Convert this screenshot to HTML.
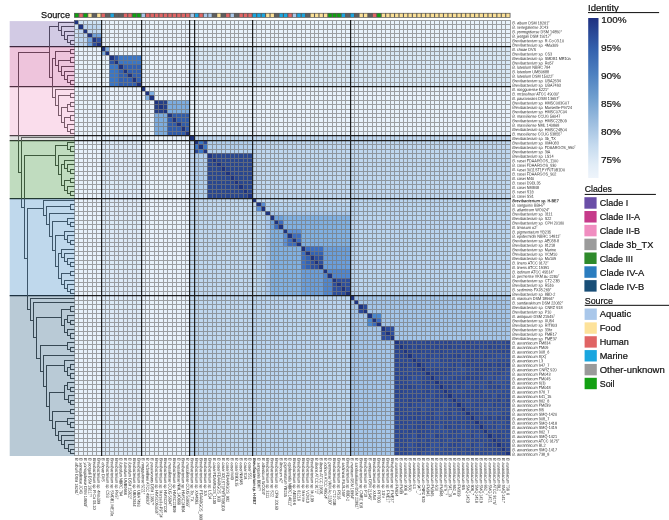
<!DOCTYPE html>
<html><head><meta charset="utf-8"><title>ANI heatmap</title>
<style>
html,body{margin:0;padding:0;background:#fff;width:669px;height:520px;overflow:hidden;font-family:"Liberation Sans",sans-serif;}
svg{display:block;}
</style></head><body>
<svg width="669" height="520" viewBox="0 0 669 520" font-family="Liberation Sans, sans-serif"><defs><filter id="gf" x="0" y="0" width="1" height="1" color-interpolation-filters="sRGB"><feOffset dx="0" dy="0"/></filter></defs><g filter="url(#gf)"><rect width="669" height="520" fill="#fff"/><g shape-rendering="crispEdges"><rect x="74" y="20" width="4" height="4" fill="#1d3380"/><rect x="78" y="20" width="23" height="4" fill="#cfe3f5"/><rect x="101" y="20" width="409" height="4" fill="#e8f2fb"/><rect x="74" y="24" width="4" height="5" fill="#cfe3f5"/><rect x="78" y="24" width="5" height="5" fill="#1d3380"/><rect x="83" y="24" width="18" height="5" fill="#bdd6f0"/><rect x="101" y="24" width="409" height="5" fill="#e8f2fb"/><rect x="74" y="29" width="4" height="4" fill="#cfe3f5"/><rect x="78" y="29" width="5" height="4" fill="#bdd6f0"/><rect x="83" y="29" width="4" height="4" fill="#1d3380"/><rect x="87" y="29" width="14" height="4" fill="#bdd6f0"/><rect x="101" y="29" width="409" height="4" fill="#e8f2fb"/><rect x="74" y="33" width="4" height="4" fill="#cfe3f5"/><rect x="78" y="33" width="9" height="4" fill="#bdd6f0"/><rect x="87" y="33" width="5" height="4" fill="#1d3380"/><rect x="92" y="33" width="9" height="4" fill="#72a3dc"/><rect x="101" y="33" width="409" height="4" fill="#e8f2fb"/><rect x="74" y="37" width="4" height="5" fill="#cfe3f5"/><rect x="78" y="37" width="9" height="5" fill="#bdd6f0"/><rect x="87" y="37" width="5" height="5" fill="#72a3dc"/><rect x="92" y="37" width="4" height="5" fill="#1d3380"/><rect x="96" y="37" width="5" height="5" fill="#2f52a3"/><rect x="101" y="37" width="409" height="5" fill="#e8f2fb"/><rect x="74" y="42" width="4" height="4" fill="#cfe3f5"/><rect x="78" y="42" width="9" height="4" fill="#bdd6f0"/><rect x="87" y="42" width="5" height="4" fill="#72a3dc"/><rect x="92" y="42" width="4" height="4" fill="#2f52a3"/><rect x="96" y="42" width="5" height="4" fill="#1d3380"/><rect x="101" y="42" width="409" height="4" fill="#e8f2fb"/><rect x="74" y="46" width="27" height="5" fill="#e8f2fb"/><rect x="101" y="46" width="4" height="5" fill="#1d3380"/><rect x="105" y="46" width="4" height="5" fill="#7faee1"/><rect x="109" y="46" width="80" height="5" fill="#e8f2fb"/><rect x="189" y="46" width="321" height="5" fill="#d8e8f6"/><rect x="74" y="51" width="27" height="4" fill="#e8f2fb"/><rect x="101" y="51" width="4" height="4" fill="#7faee1"/><rect x="105" y="51" width="4" height="4" fill="#1d3380"/><rect x="109" y="51" width="80" height="4" fill="#e8f2fb"/><rect x="189" y="51" width="321" height="4" fill="#d8e8f6"/><rect x="74" y="55" width="35" height="5" fill="#e8f2fb"/><rect x="109" y="55" width="5" height="5" fill="#1d3380"/><rect x="114" y="55" width="4" height="5" fill="#2d55a8"/><rect x="118" y="55" width="23" height="5" fill="#3a76c6"/><rect x="141" y="55" width="48" height="5" fill="#e8f2fb"/><rect x="189" y="55" width="321" height="5" fill="#d8e8f6"/><rect x="74" y="60" width="35" height="4" fill="#e8f2fb"/><rect x="109" y="60" width="5" height="4" fill="#2d55a8"/><rect x="114" y="60" width="4" height="4" fill="#1d3380"/><rect x="118" y="60" width="23" height="4" fill="#3a76c6"/><rect x="141" y="60" width="48" height="4" fill="#e8f2fb"/><rect x="189" y="60" width="321" height="4" fill="#d8e8f6"/><rect x="74" y="64" width="35" height="5" fill="#e8f2fb"/><rect x="109" y="64" width="9" height="5" fill="#3a76c6"/><rect x="118" y="64" width="5" height="5" fill="#1d3380"/><rect x="123" y="64" width="18" height="5" fill="#3160b2"/><rect x="141" y="64" width="48" height="5" fill="#e8f2fb"/><rect x="189" y="64" width="321" height="5" fill="#d8e8f6"/><rect x="74" y="69" width="35" height="4" fill="#e8f2fb"/><rect x="109" y="69" width="9" height="4" fill="#3a76c6"/><rect x="118" y="69" width="5" height="4" fill="#3160b2"/><rect x="123" y="69" width="4" height="4" fill="#1d3380"/><rect x="127" y="69" width="14" height="4" fill="#3160b2"/><rect x="141" y="69" width="48" height="4" fill="#e8f2fb"/><rect x="189" y="69" width="321" height="4" fill="#d8e8f6"/><rect x="74" y="73" width="35" height="4" fill="#e8f2fb"/><rect x="109" y="73" width="9" height="4" fill="#3a76c6"/><rect x="118" y="73" width="9" height="4" fill="#3160b2"/><rect x="127" y="73" width="5" height="4" fill="#1d3380"/><rect x="132" y="73" width="9" height="4" fill="#3160b2"/><rect x="141" y="73" width="48" height="4" fill="#e8f2fb"/><rect x="189" y="73" width="321" height="4" fill="#d8e8f6"/><rect x="74" y="77" width="35" height="5" fill="#e8f2fb"/><rect x="109" y="77" width="9" height="5" fill="#3a76c6"/><rect x="118" y="77" width="14" height="5" fill="#3160b2"/><rect x="132" y="77" width="4" height="5" fill="#1d3380"/><rect x="136" y="77" width="5" height="5" fill="#3160b2"/><rect x="141" y="77" width="48" height="5" fill="#e8f2fb"/><rect x="189" y="77" width="321" height="5" fill="#d8e8f6"/><rect x="74" y="82" width="35" height="4" fill="#e8f2fb"/><rect x="109" y="82" width="9" height="4" fill="#3a76c6"/><rect x="118" y="82" width="18" height="4" fill="#3160b2"/><rect x="136" y="82" width="5" height="4" fill="#1d3380"/><rect x="141" y="82" width="48" height="4" fill="#e8f2fb"/><rect x="189" y="82" width="321" height="4" fill="#d8e8f6"/><rect x="74" y="86" width="67" height="5" fill="#e8f2fb"/><rect x="141" y="86" width="4" height="5" fill="#1d3380"/><rect x="145" y="86" width="365" height="5" fill="#e8f2fb"/><rect x="74" y="91" width="71" height="4" fill="#e8f2fb"/><rect x="145" y="91" width="4" height="4" fill="#1d3380"/><rect x="149" y="91" width="5" height="4" fill="#80b0e2"/><rect x="154" y="91" width="356" height="4" fill="#e8f2fb"/><rect x="74" y="95" width="71" height="5" fill="#e8f2fb"/><rect x="145" y="95" width="4" height="5" fill="#80b0e2"/><rect x="149" y="95" width="5" height="5" fill="#1d3380"/><rect x="154" y="95" width="356" height="5" fill="#e8f2fb"/><rect x="74" y="100" width="80" height="4" fill="#e8f2fb"/><rect x="154" y="100" width="4" height="4" fill="#1d3380"/><rect x="158" y="100" width="9" height="4" fill="#243f88"/><rect x="167" y="100" width="22" height="4" fill="#7cade1"/><rect x="189" y="100" width="321" height="4" fill="#e8f2fb"/><rect x="74" y="104" width="80" height="5" fill="#e8f2fb"/><rect x="154" y="104" width="4" height="5" fill="#243f88"/><rect x="158" y="104" width="5" height="5" fill="#1d3380"/><rect x="163" y="104" width="4" height="5" fill="#243f88"/><rect x="167" y="104" width="22" height="5" fill="#7cade1"/><rect x="189" y="104" width="321" height="5" fill="#e8f2fb"/><rect x="74" y="109" width="80" height="4" fill="#e8f2fb"/><rect x="154" y="109" width="9" height="4" fill="#243f88"/><rect x="163" y="109" width="4" height="4" fill="#1d3380"/><rect x="167" y="109" width="22" height="4" fill="#7cade1"/><rect x="189" y="109" width="321" height="4" fill="#e8f2fb"/><rect x="74" y="113" width="80" height="4" fill="#e8f2fb"/><rect x="154" y="113" width="13" height="4" fill="#7cade1"/><rect x="167" y="113" width="5" height="4" fill="#1d3380"/><rect x="172" y="113" width="17" height="4" fill="#2f5cac"/><rect x="189" y="113" width="321" height="4" fill="#e8f2fb"/><rect x="74" y="117" width="80" height="5" fill="#e8f2fb"/><rect x="154" y="117" width="13" height="5" fill="#7cade1"/><rect x="167" y="117" width="5" height="5" fill="#2f5cac"/><rect x="172" y="117" width="4" height="5" fill="#1d3380"/><rect x="176" y="117" width="13" height="5" fill="#2f5cac"/><rect x="189" y="117" width="321" height="5" fill="#e8f2fb"/><rect x="74" y="122" width="80" height="4" fill="#e8f2fb"/><rect x="154" y="122" width="13" height="4" fill="#7cade1"/><rect x="167" y="122" width="9" height="4" fill="#2f5cac"/><rect x="176" y="122" width="5" height="4" fill="#1d3380"/><rect x="181" y="122" width="8" height="4" fill="#2f5cac"/><rect x="189" y="122" width="321" height="4" fill="#e8f2fb"/><rect x="74" y="126" width="80" height="5" fill="#e8f2fb"/><rect x="154" y="126" width="13" height="5" fill="#7cade1"/><rect x="167" y="126" width="14" height="5" fill="#2f5cac"/><rect x="181" y="126" width="4" height="5" fill="#1d3380"/><rect x="185" y="126" width="4" height="5" fill="#2f5cac"/><rect x="189" y="126" width="321" height="5" fill="#e8f2fb"/><rect x="74" y="131" width="80" height="4" fill="#e8f2fb"/><rect x="154" y="131" width="13" height="4" fill="#7cade1"/><rect x="167" y="131" width="18" height="4" fill="#2f5cac"/><rect x="185" y="131" width="4" height="4" fill="#1d3380"/><rect x="189" y="131" width="321" height="4" fill="#e8f2fb"/><rect x="74" y="135" width="27" height="5" fill="#e8f2fb"/><rect x="101" y="135" width="40" height="5" fill="#dceaf7"/><rect x="141" y="135" width="48" height="5" fill="#e8f2fb"/><rect x="189" y="135" width="5" height="5" fill="#1d3380"/><rect x="194" y="135" width="316" height="5" fill="#bfd7ef"/><rect x="74" y="140" width="27" height="4" fill="#e8f2fb"/><rect x="101" y="140" width="40" height="4" fill="#dceaf7"/><rect x="141" y="140" width="48" height="4" fill="#e8f2fb"/><rect x="189" y="140" width="5" height="4" fill="#bfd7ef"/><rect x="194" y="140" width="4" height="4" fill="#1d3380"/><rect x="198" y="140" width="5" height="4" fill="#3a78c8"/><rect x="203" y="140" width="4" height="4" fill="#2a4a9a"/><rect x="207" y="140" width="45" height="4" fill="#b2d0ee"/><rect x="252" y="140" width="258" height="4" fill="#bfd7ef"/><rect x="74" y="144" width="27" height="5" fill="#e8f2fb"/><rect x="101" y="144" width="40" height="5" fill="#dceaf7"/><rect x="141" y="144" width="48" height="5" fill="#e8f2fb"/><rect x="189" y="144" width="5" height="5" fill="#bfd7ef"/><rect x="194" y="144" width="4" height="5" fill="#3a78c8"/><rect x="198" y="144" width="5" height="5" fill="#1d3380"/><rect x="203" y="144" width="4" height="5" fill="#3a78c8"/><rect x="207" y="144" width="45" height="5" fill="#b2d0ee"/><rect x="252" y="144" width="258" height="5" fill="#bfd7ef"/><rect x="74" y="149" width="27" height="4" fill="#e8f2fb"/><rect x="101" y="149" width="40" height="4" fill="#dceaf7"/><rect x="141" y="149" width="48" height="4" fill="#e8f2fb"/><rect x="189" y="149" width="5" height="4" fill="#bfd7ef"/><rect x="194" y="149" width="4" height="4" fill="#2a4a9a"/><rect x="198" y="149" width="5" height="4" fill="#3a78c8"/><rect x="203" y="149" width="4" height="4" fill="#1d3380"/><rect x="207" y="149" width="45" height="4" fill="#b2d0ee"/><rect x="252" y="149" width="258" height="4" fill="#bfd7ef"/><rect x="74" y="153" width="27" height="5" fill="#e8f2fb"/><rect x="101" y="153" width="40" height="5" fill="#dceaf7"/><rect x="141" y="153" width="48" height="5" fill="#e8f2fb"/><rect x="189" y="153" width="5" height="5" fill="#bfd7ef"/><rect x="194" y="153" width="13" height="5" fill="#b2d0ee"/><rect x="207" y="153" width="5" height="5" fill="#1d3380"/><rect x="212" y="153" width="40" height="5" fill="#29478f"/><rect x="252" y="153" width="258" height="5" fill="#bfd7ef"/><rect x="74" y="158" width="27" height="4" fill="#e8f2fb"/><rect x="101" y="158" width="40" height="4" fill="#dceaf7"/><rect x="141" y="158" width="48" height="4" fill="#e8f2fb"/><rect x="189" y="158" width="5" height="4" fill="#bfd7ef"/><rect x="194" y="158" width="13" height="4" fill="#b2d0ee"/><rect x="207" y="158" width="5" height="4" fill="#29478f"/><rect x="212" y="158" width="4" height="4" fill="#1d3380"/><rect x="216" y="158" width="36" height="4" fill="#29478f"/><rect x="252" y="158" width="258" height="4" fill="#bfd7ef"/><rect x="74" y="162" width="27" height="4" fill="#e8f2fb"/><rect x="101" y="162" width="40" height="4" fill="#dceaf7"/><rect x="141" y="162" width="48" height="4" fill="#e8f2fb"/><rect x="189" y="162" width="5" height="4" fill="#bfd7ef"/><rect x="194" y="162" width="13" height="4" fill="#b2d0ee"/><rect x="207" y="162" width="9" height="4" fill="#29478f"/><rect x="216" y="162" width="5" height="4" fill="#1d3380"/><rect x="221" y="162" width="31" height="4" fill="#29478f"/><rect x="252" y="162" width="258" height="4" fill="#bfd7ef"/><rect x="74" y="166" width="27" height="5" fill="#e8f2fb"/><rect x="101" y="166" width="40" height="5" fill="#dceaf7"/><rect x="141" y="166" width="48" height="5" fill="#e8f2fb"/><rect x="189" y="166" width="5" height="5" fill="#bfd7ef"/><rect x="194" y="166" width="13" height="5" fill="#b2d0ee"/><rect x="207" y="166" width="14" height="5" fill="#29478f"/><rect x="221" y="166" width="4" height="5" fill="#1d3380"/><rect x="225" y="166" width="27" height="5" fill="#29478f"/><rect x="252" y="166" width="258" height="5" fill="#bfd7ef"/><rect x="74" y="171" width="27" height="4" fill="#e8f2fb"/><rect x="101" y="171" width="40" height="4" fill="#dceaf7"/><rect x="141" y="171" width="48" height="4" fill="#e8f2fb"/><rect x="189" y="171" width="5" height="4" fill="#bfd7ef"/><rect x="194" y="171" width="13" height="4" fill="#b2d0ee"/><rect x="207" y="171" width="18" height="4" fill="#29478f"/><rect x="225" y="171" width="5" height="4" fill="#1d3380"/><rect x="230" y="171" width="22" height="4" fill="#29478f"/><rect x="252" y="171" width="258" height="4" fill="#bfd7ef"/><rect x="74" y="175" width="27" height="5" fill="#e8f2fb"/><rect x="101" y="175" width="40" height="5" fill="#dceaf7"/><rect x="141" y="175" width="48" height="5" fill="#e8f2fb"/><rect x="189" y="175" width="5" height="5" fill="#bfd7ef"/><rect x="194" y="175" width="13" height="5" fill="#b2d0ee"/><rect x="207" y="175" width="23" height="5" fill="#29478f"/><rect x="230" y="175" width="4" height="5" fill="#1d3380"/><rect x="234" y="175" width="18" height="5" fill="#29478f"/><rect x="252" y="175" width="258" height="5" fill="#bfd7ef"/><rect x="74" y="180" width="27" height="4" fill="#e8f2fb"/><rect x="101" y="180" width="40" height="4" fill="#dceaf7"/><rect x="141" y="180" width="48" height="4" fill="#e8f2fb"/><rect x="189" y="180" width="5" height="4" fill="#bfd7ef"/><rect x="194" y="180" width="13" height="4" fill="#b2d0ee"/><rect x="207" y="180" width="27" height="4" fill="#29478f"/><rect x="234" y="180" width="4" height="4" fill="#1d3380"/><rect x="238" y="180" width="14" height="4" fill="#29478f"/><rect x="252" y="180" width="258" height="4" fill="#bfd7ef"/><rect x="74" y="184" width="27" height="5" fill="#e8f2fb"/><rect x="101" y="184" width="40" height="5" fill="#dceaf7"/><rect x="141" y="184" width="48" height="5" fill="#e8f2fb"/><rect x="189" y="184" width="5" height="5" fill="#bfd7ef"/><rect x="194" y="184" width="13" height="5" fill="#b2d0ee"/><rect x="207" y="184" width="31" height="5" fill="#29478f"/><rect x="238" y="184" width="5" height="5" fill="#1d3380"/><rect x="243" y="184" width="9" height="5" fill="#29478f"/><rect x="252" y="184" width="258" height="5" fill="#bfd7ef"/><rect x="74" y="189" width="27" height="4" fill="#e8f2fb"/><rect x="101" y="189" width="40" height="4" fill="#dceaf7"/><rect x="141" y="189" width="48" height="4" fill="#e8f2fb"/><rect x="189" y="189" width="5" height="4" fill="#bfd7ef"/><rect x="194" y="189" width="13" height="4" fill="#b2d0ee"/><rect x="207" y="189" width="36" height="4" fill="#29478f"/><rect x="243" y="189" width="4" height="4" fill="#1d3380"/><rect x="247" y="189" width="5" height="4" fill="#29478f"/><rect x="252" y="189" width="258" height="4" fill="#bfd7ef"/><rect x="74" y="193" width="27" height="5" fill="#e8f2fb"/><rect x="101" y="193" width="40" height="5" fill="#dceaf7"/><rect x="141" y="193" width="48" height="5" fill="#e8f2fb"/><rect x="189" y="193" width="5" height="5" fill="#bfd7ef"/><rect x="194" y="193" width="13" height="5" fill="#b2d0ee"/><rect x="207" y="193" width="40" height="5" fill="#29478f"/><rect x="247" y="193" width="5" height="5" fill="#1d3380"/><rect x="252" y="193" width="258" height="5" fill="#bfd7ef"/><rect x="74" y="198" width="27" height="4" fill="#e8f2fb"/><rect x="101" y="198" width="40" height="4" fill="#dceaf7"/><rect x="141" y="198" width="48" height="4" fill="#e8f2fb"/><rect x="189" y="198" width="63" height="4" fill="#bfd7ef"/><rect x="252" y="198" width="4" height="4" fill="#1d3380"/><rect x="256" y="198" width="94" height="4" fill="#c4dcf2"/><rect x="350" y="198" width="160" height="4" fill="#b9d4ef"/><rect x="74" y="202" width="27" height="4" fill="#e8f2fb"/><rect x="101" y="202" width="40" height="4" fill="#dceaf7"/><rect x="141" y="202" width="48" height="4" fill="#e8f2fb"/><rect x="189" y="202" width="63" height="4" fill="#bfd7ef"/><rect x="252" y="202" width="4" height="4" fill="#c4dcf2"/><rect x="256" y="202" width="5" height="4" fill="#1d3380"/><rect x="261" y="202" width="4" height="4" fill="#5a8fd6"/><rect x="265" y="202" width="85" height="4" fill="#b4d2ee"/><rect x="350" y="202" width="160" height="4" fill="#b9d4ef"/><rect x="74" y="206" width="27" height="5" fill="#e8f2fb"/><rect x="101" y="206" width="40" height="5" fill="#dceaf7"/><rect x="141" y="206" width="48" height="5" fill="#e8f2fb"/><rect x="189" y="206" width="63" height="5" fill="#bfd7ef"/><rect x="252" y="206" width="4" height="5" fill="#c4dcf2"/><rect x="256" y="206" width="5" height="5" fill="#5a8fd6"/><rect x="261" y="206" width="4" height="5" fill="#1d3380"/><rect x="265" y="206" width="85" height="5" fill="#b4d2ee"/><rect x="350" y="206" width="160" height="5" fill="#b9d4ef"/><rect x="74" y="211" width="27" height="4" fill="#e8f2fb"/><rect x="101" y="211" width="40" height="4" fill="#dceaf7"/><rect x="141" y="211" width="48" height="4" fill="#e8f2fb"/><rect x="189" y="211" width="63" height="4" fill="#bfd7ef"/><rect x="252" y="211" width="4" height="4" fill="#c4dcf2"/><rect x="256" y="211" width="9" height="4" fill="#b4d2ee"/><rect x="265" y="211" width="5" height="4" fill="#1d3380"/><rect x="270" y="211" width="80" height="4" fill="#a8c8ec"/><rect x="350" y="211" width="160" height="4" fill="#b9d4ef"/><rect x="74" y="215" width="27" height="5" fill="#e8f2fb"/><rect x="101" y="215" width="40" height="5" fill="#dceaf7"/><rect x="141" y="215" width="48" height="5" fill="#e8f2fb"/><rect x="189" y="215" width="63" height="5" fill="#bfd7ef"/><rect x="252" y="215" width="4" height="5" fill="#c4dcf2"/><rect x="256" y="215" width="9" height="5" fill="#b4d2ee"/><rect x="265" y="215" width="5" height="5" fill="#a8c8ec"/><rect x="270" y="215" width="4" height="5" fill="#1d3380"/><rect x="274" y="215" width="9" height="5" fill="#6fa2dc"/><rect x="283" y="215" width="67" height="5" fill="#80b0e2"/><rect x="350" y="215" width="160" height="5" fill="#b9d4ef"/><rect x="74" y="220" width="27" height="4" fill="#e8f2fb"/><rect x="101" y="220" width="40" height="4" fill="#dceaf7"/><rect x="141" y="220" width="48" height="4" fill="#e8f2fb"/><rect x="189" y="220" width="63" height="4" fill="#bfd7ef"/><rect x="252" y="220" width="4" height="4" fill="#c4dcf2"/><rect x="256" y="220" width="9" height="4" fill="#b4d2ee"/><rect x="265" y="220" width="5" height="4" fill="#a8c8ec"/><rect x="270" y="220" width="4" height="4" fill="#6fa2dc"/><rect x="274" y="220" width="4" height="4" fill="#1d3380"/><rect x="278" y="220" width="5" height="4" fill="#3c6cc0"/><rect x="283" y="220" width="67" height="4" fill="#80b0e2"/><rect x="350" y="220" width="160" height="4" fill="#b9d4ef"/><rect x="74" y="224" width="27" height="5" fill="#e8f2fb"/><rect x="101" y="224" width="40" height="5" fill="#dceaf7"/><rect x="141" y="224" width="48" height="5" fill="#e8f2fb"/><rect x="189" y="224" width="63" height="5" fill="#bfd7ef"/><rect x="252" y="224" width="4" height="5" fill="#c4dcf2"/><rect x="256" y="224" width="9" height="5" fill="#b4d2ee"/><rect x="265" y="224" width="5" height="5" fill="#a8c8ec"/><rect x="270" y="224" width="4" height="5" fill="#6fa2dc"/><rect x="274" y="224" width="4" height="5" fill="#3c6cc0"/><rect x="278" y="224" width="5" height="5" fill="#1d3380"/><rect x="283" y="224" width="67" height="5" fill="#80b0e2"/><rect x="350" y="224" width="160" height="5" fill="#b9d4ef"/><rect x="74" y="229" width="27" height="4" fill="#e8f2fb"/><rect x="101" y="229" width="40" height="4" fill="#dceaf7"/><rect x="141" y="229" width="48" height="4" fill="#e8f2fb"/><rect x="189" y="229" width="63" height="4" fill="#bfd7ef"/><rect x="252" y="229" width="4" height="4" fill="#c4dcf2"/><rect x="256" y="229" width="9" height="4" fill="#b4d2ee"/><rect x="265" y="229" width="5" height="4" fill="#a8c8ec"/><rect x="270" y="229" width="13" height="4" fill="#80b0e2"/><rect x="283" y="229" width="4" height="4" fill="#1d3380"/><rect x="287" y="229" width="14" height="4" fill="#5c90d6"/><rect x="301" y="229" width="49" height="4" fill="#80b0e2"/><rect x="350" y="229" width="160" height="4" fill="#b9d4ef"/><rect x="74" y="233" width="27" height="5" fill="#e8f2fb"/><rect x="101" y="233" width="40" height="5" fill="#dceaf7"/><rect x="141" y="233" width="48" height="5" fill="#e8f2fb"/><rect x="189" y="233" width="63" height="5" fill="#bfd7ef"/><rect x="252" y="233" width="4" height="5" fill="#c4dcf2"/><rect x="256" y="233" width="9" height="5" fill="#b4d2ee"/><rect x="265" y="233" width="5" height="5" fill="#a8c8ec"/><rect x="270" y="233" width="13" height="5" fill="#80b0e2"/><rect x="283" y="233" width="4" height="5" fill="#5c90d6"/><rect x="287" y="233" width="5" height="5" fill="#1d3380"/><rect x="292" y="233" width="9" height="5" fill="#3d6ec0"/><rect x="301" y="233" width="49" height="5" fill="#80b0e2"/><rect x="350" y="233" width="160" height="5" fill="#b9d4ef"/><rect x="74" y="238" width="27" height="4" fill="#e8f2fb"/><rect x="101" y="238" width="40" height="4" fill="#dceaf7"/><rect x="141" y="238" width="48" height="4" fill="#e8f2fb"/><rect x="189" y="238" width="63" height="4" fill="#bfd7ef"/><rect x="252" y="238" width="4" height="4" fill="#c4dcf2"/><rect x="256" y="238" width="9" height="4" fill="#b4d2ee"/><rect x="265" y="238" width="5" height="4" fill="#a8c8ec"/><rect x="270" y="238" width="13" height="4" fill="#80b0e2"/><rect x="283" y="238" width="4" height="4" fill="#5c90d6"/><rect x="287" y="238" width="5" height="4" fill="#3d6ec0"/><rect x="292" y="238" width="4" height="4" fill="#1d3380"/><rect x="296" y="238" width="5" height="4" fill="#3d6ec0"/><rect x="301" y="238" width="49" height="4" fill="#80b0e2"/><rect x="350" y="238" width="160" height="4" fill="#b9d4ef"/><rect x="74" y="242" width="27" height="4" fill="#e8f2fb"/><rect x="101" y="242" width="40" height="4" fill="#dceaf7"/><rect x="141" y="242" width="48" height="4" fill="#e8f2fb"/><rect x="189" y="242" width="63" height="4" fill="#bfd7ef"/><rect x="252" y="242" width="4" height="4" fill="#c4dcf2"/><rect x="256" y="242" width="9" height="4" fill="#b4d2ee"/><rect x="265" y="242" width="5" height="4" fill="#a8c8ec"/><rect x="270" y="242" width="13" height="4" fill="#80b0e2"/><rect x="283" y="242" width="4" height="4" fill="#5c90d6"/><rect x="287" y="242" width="9" height="4" fill="#3d6ec0"/><rect x="296" y="242" width="5" height="4" fill="#1d3380"/><rect x="301" y="242" width="49" height="4" fill="#80b0e2"/><rect x="350" y="242" width="160" height="4" fill="#b9d4ef"/><rect x="74" y="246" width="27" height="5" fill="#e8f2fb"/><rect x="101" y="246" width="40" height="5" fill="#dceaf7"/><rect x="141" y="246" width="48" height="5" fill="#e8f2fb"/><rect x="189" y="246" width="63" height="5" fill="#bfd7ef"/><rect x="252" y="246" width="4" height="5" fill="#c4dcf2"/><rect x="256" y="246" width="9" height="5" fill="#b4d2ee"/><rect x="265" y="246" width="5" height="5" fill="#a8c8ec"/><rect x="270" y="246" width="31" height="5" fill="#80b0e2"/><rect x="301" y="246" width="4" height="5" fill="#1d3380"/><rect x="305" y="246" width="18" height="5" fill="#3c70c4"/><rect x="323" y="246" width="27" height="5" fill="#6a9edb"/><rect x="350" y="246" width="160" height="5" fill="#b9d4ef"/><rect x="74" y="251" width="27" height="4" fill="#e8f2fb"/><rect x="101" y="251" width="40" height="4" fill="#dceaf7"/><rect x="141" y="251" width="48" height="4" fill="#e8f2fb"/><rect x="189" y="251" width="63" height="4" fill="#bfd7ef"/><rect x="252" y="251" width="4" height="4" fill="#c4dcf2"/><rect x="256" y="251" width="9" height="4" fill="#b4d2ee"/><rect x="265" y="251" width="5" height="4" fill="#a8c8ec"/><rect x="270" y="251" width="31" height="4" fill="#80b0e2"/><rect x="301" y="251" width="4" height="4" fill="#3c70c4"/><rect x="305" y="251" width="5" height="4" fill="#1d3380"/><rect x="310" y="251" width="13" height="4" fill="#3262b4"/><rect x="323" y="251" width="27" height="4" fill="#6a9edb"/><rect x="350" y="251" width="160" height="4" fill="#b9d4ef"/><rect x="74" y="255" width="27" height="5" fill="#e8f2fb"/><rect x="101" y="255" width="40" height="5" fill="#dceaf7"/><rect x="141" y="255" width="48" height="5" fill="#e8f2fb"/><rect x="189" y="255" width="63" height="5" fill="#bfd7ef"/><rect x="252" y="255" width="4" height="5" fill="#c4dcf2"/><rect x="256" y="255" width="9" height="5" fill="#b4d2ee"/><rect x="265" y="255" width="5" height="5" fill="#a8c8ec"/><rect x="270" y="255" width="31" height="5" fill="#80b0e2"/><rect x="301" y="255" width="4" height="5" fill="#3c70c4"/><rect x="305" y="255" width="5" height="5" fill="#3262b4"/><rect x="310" y="255" width="4" height="5" fill="#1d3380"/><rect x="314" y="255" width="9" height="5" fill="#2c4f9f"/><rect x="323" y="255" width="27" height="5" fill="#6a9edb"/><rect x="350" y="255" width="160" height="5" fill="#b9d4ef"/><rect x="74" y="260" width="27" height="4" fill="#e8f2fb"/><rect x="101" y="260" width="40" height="4" fill="#dceaf7"/><rect x="141" y="260" width="48" height="4" fill="#e8f2fb"/><rect x="189" y="260" width="63" height="4" fill="#bfd7ef"/><rect x="252" y="260" width="4" height="4" fill="#c4dcf2"/><rect x="256" y="260" width="9" height="4" fill="#b4d2ee"/><rect x="265" y="260" width="5" height="4" fill="#a8c8ec"/><rect x="270" y="260" width="31" height="4" fill="#80b0e2"/><rect x="301" y="260" width="4" height="4" fill="#3c70c4"/><rect x="305" y="260" width="5" height="4" fill="#3262b4"/><rect x="310" y="260" width="4" height="4" fill="#2c4f9f"/><rect x="314" y="260" width="4" height="4" fill="#1d3380"/><rect x="318" y="260" width="5" height="4" fill="#2c4f9f"/><rect x="323" y="260" width="27" height="4" fill="#6a9edb"/><rect x="350" y="260" width="160" height="4" fill="#b9d4ef"/><rect x="74" y="264" width="27" height="5" fill="#e8f2fb"/><rect x="101" y="264" width="40" height="5" fill="#dceaf7"/><rect x="141" y="264" width="48" height="5" fill="#e8f2fb"/><rect x="189" y="264" width="63" height="5" fill="#bfd7ef"/><rect x="252" y="264" width="4" height="5" fill="#c4dcf2"/><rect x="256" y="264" width="9" height="5" fill="#b4d2ee"/><rect x="265" y="264" width="5" height="5" fill="#a8c8ec"/><rect x="270" y="264" width="31" height="5" fill="#80b0e2"/><rect x="301" y="264" width="4" height="5" fill="#3c70c4"/><rect x="305" y="264" width="5" height="5" fill="#3262b4"/><rect x="310" y="264" width="8" height="5" fill="#2c4f9f"/><rect x="318" y="264" width="5" height="5" fill="#1d3380"/><rect x="323" y="264" width="27" height="5" fill="#6a9edb"/><rect x="350" y="264" width="160" height="5" fill="#b9d4ef"/><rect x="74" y="269" width="27" height="4" fill="#e8f2fb"/><rect x="101" y="269" width="40" height="4" fill="#dceaf7"/><rect x="141" y="269" width="48" height="4" fill="#e8f2fb"/><rect x="189" y="269" width="63" height="4" fill="#bfd7ef"/><rect x="252" y="269" width="4" height="4" fill="#c4dcf2"/><rect x="256" y="269" width="9" height="4" fill="#b4d2ee"/><rect x="265" y="269" width="5" height="4" fill="#a8c8ec"/><rect x="270" y="269" width="31" height="4" fill="#80b0e2"/><rect x="301" y="269" width="22" height="4" fill="#6a9edb"/><rect x="323" y="269" width="4" height="4" fill="#1d3380"/><rect x="327" y="269" width="23" height="4" fill="#4f86cf"/><rect x="350" y="269" width="160" height="4" fill="#b9d4ef"/><rect x="74" y="273" width="27" height="5" fill="#e8f2fb"/><rect x="101" y="273" width="40" height="5" fill="#dceaf7"/><rect x="141" y="273" width="48" height="5" fill="#e8f2fb"/><rect x="189" y="273" width="63" height="5" fill="#bfd7ef"/><rect x="252" y="273" width="4" height="5" fill="#c4dcf2"/><rect x="256" y="273" width="9" height="5" fill="#b4d2ee"/><rect x="265" y="273" width="5" height="5" fill="#a8c8ec"/><rect x="270" y="273" width="31" height="5" fill="#80b0e2"/><rect x="301" y="273" width="22" height="5" fill="#6a9edb"/><rect x="323" y="273" width="4" height="5" fill="#4f86cf"/><rect x="327" y="273" width="5" height="5" fill="#1d3380"/><rect x="332" y="273" width="18" height="5" fill="#4f86cf"/><rect x="350" y="273" width="160" height="5" fill="#b9d4ef"/><rect x="74" y="278" width="27" height="4" fill="#e8f2fb"/><rect x="101" y="278" width="40" height="4" fill="#dceaf7"/><rect x="141" y="278" width="48" height="4" fill="#e8f2fb"/><rect x="189" y="278" width="63" height="4" fill="#bfd7ef"/><rect x="252" y="278" width="4" height="4" fill="#c4dcf2"/><rect x="256" y="278" width="9" height="4" fill="#b4d2ee"/><rect x="265" y="278" width="5" height="4" fill="#a8c8ec"/><rect x="270" y="278" width="31" height="4" fill="#80b0e2"/><rect x="301" y="278" width="22" height="4" fill="#6a9edb"/><rect x="323" y="278" width="9" height="4" fill="#4f86cf"/><rect x="332" y="278" width="4" height="4" fill="#1d3380"/><rect x="336" y="278" width="14" height="4" fill="#2c4e9e"/><rect x="350" y="278" width="160" height="4" fill="#b9d4ef"/><rect x="74" y="282" width="27" height="4" fill="#e8f2fb"/><rect x="101" y="282" width="40" height="4" fill="#dceaf7"/><rect x="141" y="282" width="48" height="4" fill="#e8f2fb"/><rect x="189" y="282" width="63" height="4" fill="#bfd7ef"/><rect x="252" y="282" width="4" height="4" fill="#c4dcf2"/><rect x="256" y="282" width="9" height="4" fill="#b4d2ee"/><rect x="265" y="282" width="5" height="4" fill="#a8c8ec"/><rect x="270" y="282" width="31" height="4" fill="#80b0e2"/><rect x="301" y="282" width="22" height="4" fill="#6a9edb"/><rect x="323" y="282" width="9" height="4" fill="#4f86cf"/><rect x="332" y="282" width="4" height="4" fill="#2c4e9e"/><rect x="336" y="282" width="5" height="4" fill="#1d3380"/><rect x="341" y="282" width="9" height="4" fill="#2c4e9e"/><rect x="350" y="282" width="160" height="4" fill="#b9d4ef"/><rect x="74" y="286" width="27" height="5" fill="#e8f2fb"/><rect x="101" y="286" width="40" height="5" fill="#dceaf7"/><rect x="141" y="286" width="48" height="5" fill="#e8f2fb"/><rect x="189" y="286" width="63" height="5" fill="#bfd7ef"/><rect x="252" y="286" width="4" height="5" fill="#c4dcf2"/><rect x="256" y="286" width="9" height="5" fill="#b4d2ee"/><rect x="265" y="286" width="5" height="5" fill="#a8c8ec"/><rect x="270" y="286" width="31" height="5" fill="#80b0e2"/><rect x="301" y="286" width="22" height="5" fill="#6a9edb"/><rect x="323" y="286" width="9" height="5" fill="#4f86cf"/><rect x="332" y="286" width="9" height="5" fill="#2c4e9e"/><rect x="341" y="286" width="4" height="5" fill="#1d3380"/><rect x="345" y="286" width="5" height="5" fill="#2c4e9e"/><rect x="350" y="286" width="160" height="5" fill="#b9d4ef"/><rect x="74" y="291" width="27" height="4" fill="#e8f2fb"/><rect x="101" y="291" width="40" height="4" fill="#dceaf7"/><rect x="141" y="291" width="48" height="4" fill="#e8f2fb"/><rect x="189" y="291" width="63" height="4" fill="#bfd7ef"/><rect x="252" y="291" width="4" height="4" fill="#c4dcf2"/><rect x="256" y="291" width="9" height="4" fill="#b4d2ee"/><rect x="265" y="291" width="5" height="4" fill="#a8c8ec"/><rect x="270" y="291" width="31" height="4" fill="#80b0e2"/><rect x="301" y="291" width="22" height="4" fill="#6a9edb"/><rect x="323" y="291" width="9" height="4" fill="#4f86cf"/><rect x="332" y="291" width="13" height="4" fill="#2c4e9e"/><rect x="345" y="291" width="5" height="4" fill="#1d3380"/><rect x="350" y="291" width="160" height="4" fill="#b9d4ef"/><rect x="74" y="295" width="27" height="5" fill="#e8f2fb"/><rect x="101" y="295" width="40" height="5" fill="#dceaf7"/><rect x="141" y="295" width="48" height="5" fill="#e8f2fb"/><rect x="189" y="295" width="63" height="5" fill="#bfd7ef"/><rect x="252" y="295" width="98" height="5" fill="#b9d4ef"/><rect x="350" y="295" width="4" height="5" fill="#1d3380"/><rect x="354" y="295" width="156" height="5" fill="#a3c5e9"/><rect x="74" y="300" width="27" height="4" fill="#e8f2fb"/><rect x="101" y="300" width="40" height="4" fill="#dceaf7"/><rect x="141" y="300" width="48" height="4" fill="#e8f2fb"/><rect x="189" y="300" width="63" height="4" fill="#bfd7ef"/><rect x="252" y="300" width="98" height="4" fill="#b9d4ef"/><rect x="350" y="300" width="4" height="4" fill="#a3c5e9"/><rect x="354" y="300" width="4" height="4" fill="#1d3380"/><rect x="358" y="300" width="152" height="4" fill="#a3c5e9"/><rect x="74" y="304" width="27" height="5" fill="#e8f2fb"/><rect x="101" y="304" width="40" height="5" fill="#dceaf7"/><rect x="141" y="304" width="48" height="5" fill="#e8f2fb"/><rect x="189" y="304" width="63" height="5" fill="#bfd7ef"/><rect x="252" y="304" width="98" height="5" fill="#b9d4ef"/><rect x="350" y="304" width="8" height="5" fill="#a3c5e9"/><rect x="358" y="304" width="5" height="5" fill="#1d3380"/><rect x="363" y="304" width="4" height="5" fill="#2a4a9a"/><rect x="367" y="304" width="143" height="5" fill="#a3c5e9"/><rect x="74" y="309" width="27" height="4" fill="#e8f2fb"/><rect x="101" y="309" width="40" height="4" fill="#dceaf7"/><rect x="141" y="309" width="48" height="4" fill="#e8f2fb"/><rect x="189" y="309" width="63" height="4" fill="#bfd7ef"/><rect x="252" y="309" width="98" height="4" fill="#b9d4ef"/><rect x="350" y="309" width="8" height="4" fill="#a3c5e9"/><rect x="358" y="309" width="5" height="4" fill="#2a4a9a"/><rect x="363" y="309" width="4" height="4" fill="#1d3380"/><rect x="367" y="309" width="143" height="4" fill="#a3c5e9"/><rect x="74" y="313" width="27" height="5" fill="#e8f2fb"/><rect x="101" y="313" width="40" height="5" fill="#dceaf7"/><rect x="141" y="313" width="48" height="5" fill="#e8f2fb"/><rect x="189" y="313" width="63" height="5" fill="#bfd7ef"/><rect x="252" y="313" width="98" height="5" fill="#b9d4ef"/><rect x="350" y="313" width="17" height="5" fill="#a3c5e9"/><rect x="367" y="313" width="5" height="5" fill="#1d3380"/><rect x="372" y="313" width="9" height="5" fill="#4a88d0"/><rect x="381" y="313" width="129" height="5" fill="#a3c5e9"/><rect x="74" y="318" width="27" height="4" fill="#e8f2fb"/><rect x="101" y="318" width="40" height="4" fill="#dceaf7"/><rect x="141" y="318" width="48" height="4" fill="#e8f2fb"/><rect x="189" y="318" width="63" height="4" fill="#bfd7ef"/><rect x="252" y="318" width="98" height="4" fill="#b9d4ef"/><rect x="350" y="318" width="17" height="4" fill="#a3c5e9"/><rect x="367" y="318" width="5" height="4" fill="#4a88d0"/><rect x="372" y="318" width="4" height="4" fill="#1d3380"/><rect x="376" y="318" width="5" height="4" fill="#3a6cc0"/><rect x="381" y="318" width="129" height="4" fill="#a3c5e9"/><rect x="74" y="322" width="27" height="4" fill="#e8f2fb"/><rect x="101" y="322" width="40" height="4" fill="#dceaf7"/><rect x="141" y="322" width="48" height="4" fill="#e8f2fb"/><rect x="189" y="322" width="63" height="4" fill="#bfd7ef"/><rect x="252" y="322" width="98" height="4" fill="#b9d4ef"/><rect x="350" y="322" width="17" height="4" fill="#a3c5e9"/><rect x="367" y="322" width="5" height="4" fill="#4a88d0"/><rect x="372" y="322" width="4" height="4" fill="#3a6cc0"/><rect x="376" y="322" width="5" height="4" fill="#1d3380"/><rect x="381" y="322" width="129" height="4" fill="#a3c5e9"/><rect x="74" y="326" width="27" height="5" fill="#e8f2fb"/><rect x="101" y="326" width="40" height="5" fill="#dceaf7"/><rect x="141" y="326" width="48" height="5" fill="#e8f2fb"/><rect x="189" y="326" width="63" height="5" fill="#bfd7ef"/><rect x="252" y="326" width="98" height="5" fill="#b9d4ef"/><rect x="350" y="326" width="31" height="5" fill="#a3c5e9"/><rect x="381" y="326" width="4" height="5" fill="#1d3380"/><rect x="385" y="326" width="9" height="5" fill="#2c4d9e"/><rect x="394" y="326" width="116" height="5" fill="#a3c5e9"/><rect x="74" y="331" width="27" height="4" fill="#e8f2fb"/><rect x="101" y="331" width="40" height="4" fill="#dceaf7"/><rect x="141" y="331" width="48" height="4" fill="#e8f2fb"/><rect x="189" y="331" width="63" height="4" fill="#bfd7ef"/><rect x="252" y="331" width="98" height="4" fill="#b9d4ef"/><rect x="350" y="331" width="31" height="4" fill="#a3c5e9"/><rect x="381" y="331" width="4" height="4" fill="#2c4d9e"/><rect x="385" y="331" width="5" height="4" fill="#1d3380"/><rect x="390" y="331" width="4" height="4" fill="#2c4d9e"/><rect x="394" y="331" width="116" height="4" fill="#a3c5e9"/><rect x="74" y="335" width="27" height="5" fill="#e8f2fb"/><rect x="101" y="335" width="40" height="5" fill="#dceaf7"/><rect x="141" y="335" width="48" height="5" fill="#e8f2fb"/><rect x="189" y="335" width="63" height="5" fill="#bfd7ef"/><rect x="252" y="335" width="98" height="5" fill="#b9d4ef"/><rect x="350" y="335" width="31" height="5" fill="#a3c5e9"/><rect x="381" y="335" width="9" height="5" fill="#2c4d9e"/><rect x="390" y="335" width="4" height="5" fill="#1d3380"/><rect x="394" y="335" width="116" height="5" fill="#a3c5e9"/><rect x="74" y="340" width="27" height="4" fill="#e8f2fb"/><rect x="101" y="340" width="40" height="4" fill="#dceaf7"/><rect x="141" y="340" width="48" height="4" fill="#e8f2fb"/><rect x="189" y="340" width="63" height="4" fill="#bfd7ef"/><rect x="252" y="340" width="98" height="4" fill="#b9d4ef"/><rect x="350" y="340" width="44" height="4" fill="#a3c5e9"/><rect x="394" y="340" width="5" height="4" fill="#1d3380"/><rect x="399" y="340" width="8" height="4" fill="#29448e"/><rect x="407" y="340" width="5" height="4" fill="#2b4792"/><rect x="412" y="340" width="4" height="4" fill="#29448e"/><rect x="416" y="340" width="9" height="4" fill="#2b4792"/><rect x="425" y="340" width="5" height="4" fill="#29448e"/><rect x="430" y="340" width="4" height="4" fill="#2b4792"/><rect x="434" y="340" width="5" height="4" fill="#29448e"/><rect x="439" y="340" width="4" height="4" fill="#2b4792"/><rect x="443" y="340" width="9" height="4" fill="#29448e"/><rect x="452" y="340" width="4" height="4" fill="#2b4792"/><rect x="456" y="340" width="5" height="4" fill="#2c4a95"/><rect x="461" y="340" width="9" height="4" fill="#29448e"/><rect x="470" y="340" width="4" height="4" fill="#2b4792"/><rect x="474" y="340" width="5" height="4" fill="#2c4a95"/><rect x="479" y="340" width="8" height="4" fill="#2b4792"/><rect x="487" y="340" width="5" height="4" fill="#2c4a95"/><rect x="492" y="340" width="4" height="4" fill="#29448e"/><rect x="496" y="340" width="5" height="4" fill="#2c4a95"/><rect x="501" y="340" width="4" height="4" fill="#2b4792"/><rect x="505" y="340" width="5" height="4" fill="#29448e"/><rect x="74" y="344" width="27" height="5" fill="#e8f2fb"/><rect x="101" y="344" width="40" height="5" fill="#dceaf7"/><rect x="141" y="344" width="48" height="5" fill="#e8f2fb"/><rect x="189" y="344" width="63" height="5" fill="#bfd7ef"/><rect x="252" y="344" width="98" height="5" fill="#b9d4ef"/><rect x="350" y="344" width="44" height="5" fill="#a3c5e9"/><rect x="394" y="344" width="5" height="5" fill="#29448e"/><rect x="399" y="344" width="4" height="5" fill="#1d3380"/><rect x="403" y="344" width="9" height="5" fill="#29448e"/><rect x="412" y="344" width="4" height="5" fill="#2c4a95"/><rect x="416" y="344" width="5" height="5" fill="#29448e"/><rect x="421" y="344" width="18" height="5" fill="#2b4792"/><rect x="439" y="344" width="13" height="5" fill="#29448e"/><rect x="452" y="344" width="27" height="5" fill="#2b4792"/><rect x="479" y="344" width="4" height="5" fill="#2c4a95"/><rect x="483" y="344" width="4" height="5" fill="#2b4792"/><rect x="487" y="344" width="5" height="5" fill="#29448e"/><rect x="492" y="344" width="9" height="5" fill="#2b4792"/><rect x="501" y="344" width="4" height="5" fill="#2c4a95"/><rect x="505" y="344" width="5" height="5" fill="#2b4792"/><rect x="74" y="349" width="27" height="4" fill="#e8f2fb"/><rect x="101" y="349" width="40" height="4" fill="#dceaf7"/><rect x="141" y="349" width="48" height="4" fill="#e8f2fb"/><rect x="189" y="349" width="63" height="4" fill="#bfd7ef"/><rect x="252" y="349" width="98" height="4" fill="#b9d4ef"/><rect x="350" y="349" width="44" height="4" fill="#a3c5e9"/><rect x="394" y="349" width="9" height="4" fill="#29448e"/><rect x="403" y="349" width="4" height="4" fill="#1d3380"/><rect x="407" y="349" width="5" height="4" fill="#29448e"/><rect x="412" y="349" width="4" height="4" fill="#2b4792"/><rect x="416" y="349" width="5" height="4" fill="#29448e"/><rect x="421" y="349" width="4" height="4" fill="#2b4792"/><rect x="425" y="349" width="5" height="4" fill="#2c4a95"/><rect x="430" y="349" width="4" height="4" fill="#29448e"/><rect x="434" y="349" width="5" height="4" fill="#2b4792"/><rect x="439" y="349" width="4" height="4" fill="#29448e"/><rect x="443" y="349" width="4" height="4" fill="#2b4792"/><rect x="447" y="349" width="5" height="4" fill="#2c4a95"/><rect x="452" y="349" width="4" height="4" fill="#2b4792"/><rect x="456" y="349" width="5" height="4" fill="#2c4a95"/><rect x="461" y="349" width="22" height="4" fill="#2b4792"/><rect x="483" y="349" width="9" height="4" fill="#2c4a95"/><rect x="492" y="349" width="9" height="4" fill="#2b4792"/><rect x="501" y="349" width="4" height="4" fill="#29448e"/><rect x="505" y="349" width="5" height="4" fill="#2b4792"/><rect x="74" y="353" width="27" height="5" fill="#e8f2fb"/><rect x="101" y="353" width="40" height="5" fill="#dceaf7"/><rect x="141" y="353" width="48" height="5" fill="#e8f2fb"/><rect x="189" y="353" width="63" height="5" fill="#bfd7ef"/><rect x="252" y="353" width="98" height="5" fill="#b9d4ef"/><rect x="350" y="353" width="44" height="5" fill="#a3c5e9"/><rect x="394" y="353" width="5" height="5" fill="#2b4792"/><rect x="399" y="353" width="8" height="5" fill="#29448e"/><rect x="407" y="353" width="5" height="5" fill="#1d3380"/><rect x="412" y="353" width="9" height="5" fill="#2c4a95"/><rect x="421" y="353" width="4" height="5" fill="#2e4d98"/><rect x="425" y="353" width="5" height="5" fill="#2b4792"/><rect x="430" y="353" width="4" height="5" fill="#2c4a95"/><rect x="434" y="353" width="5" height="5" fill="#2e4d98"/><rect x="439" y="353" width="4" height="5" fill="#29448e"/><rect x="443" y="353" width="4" height="5" fill="#2c4a95"/><rect x="447" y="353" width="5" height="5" fill="#2b4792"/><rect x="452" y="353" width="9" height="5" fill="#29448e"/><rect x="461" y="353" width="4" height="5" fill="#2e4d98"/><rect x="465" y="353" width="9" height="5" fill="#2b4792"/><rect x="474" y="353" width="5" height="5" fill="#2c4a95"/><rect x="479" y="353" width="4" height="5" fill="#2e4d98"/><rect x="483" y="353" width="4" height="5" fill="#29448e"/><rect x="487" y="353" width="9" height="5" fill="#2c4a95"/><rect x="496" y="353" width="5" height="5" fill="#30509c"/><rect x="501" y="353" width="9" height="5" fill="#2e4d98"/><rect x="74" y="358" width="27" height="4" fill="#e8f2fb"/><rect x="101" y="358" width="40" height="4" fill="#dceaf7"/><rect x="141" y="358" width="48" height="4" fill="#e8f2fb"/><rect x="189" y="358" width="63" height="4" fill="#bfd7ef"/><rect x="252" y="358" width="98" height="4" fill="#b9d4ef"/><rect x="350" y="358" width="44" height="4" fill="#a3c5e9"/><rect x="394" y="358" width="5" height="4" fill="#29448e"/><rect x="399" y="358" width="4" height="4" fill="#2c4a95"/><rect x="403" y="358" width="4" height="4" fill="#2b4792"/><rect x="407" y="358" width="5" height="4" fill="#2c4a95"/><rect x="412" y="358" width="4" height="4" fill="#1d3380"/><rect x="416" y="358" width="14" height="4" fill="#2b4792"/><rect x="430" y="358" width="9" height="4" fill="#30509c"/><rect x="439" y="358" width="17" height="4" fill="#2b4792"/><rect x="456" y="358" width="9" height="4" fill="#2c4a95"/><rect x="465" y="358" width="5" height="4" fill="#2b4792"/><rect x="470" y="358" width="4" height="4" fill="#29448e"/><rect x="474" y="358" width="5" height="4" fill="#2c4a95"/><rect x="479" y="358" width="4" height="4" fill="#2b4792"/><rect x="483" y="358" width="4" height="4" fill="#2c4a95"/><rect x="487" y="358" width="5" height="4" fill="#30509c"/><rect x="492" y="358" width="4" height="4" fill="#2e4d98"/><rect x="496" y="358" width="9" height="4" fill="#2c4a95"/><rect x="505" y="358" width="5" height="4" fill="#2e4d98"/><rect x="74" y="362" width="27" height="5" fill="#e8f2fb"/><rect x="101" y="362" width="40" height="5" fill="#dceaf7"/><rect x="141" y="362" width="48" height="5" fill="#e8f2fb"/><rect x="189" y="362" width="63" height="5" fill="#bfd7ef"/><rect x="252" y="362" width="98" height="5" fill="#b9d4ef"/><rect x="350" y="362" width="44" height="5" fill="#a3c5e9"/><rect x="394" y="362" width="5" height="5" fill="#2b4792"/><rect x="399" y="362" width="8" height="5" fill="#29448e"/><rect x="407" y="362" width="5" height="5" fill="#2c4a95"/><rect x="412" y="362" width="4" height="5" fill="#2b4792"/><rect x="416" y="362" width="5" height="5" fill="#1d3380"/><rect x="421" y="362" width="4" height="5" fill="#29448e"/><rect x="425" y="362" width="5" height="5" fill="#2c4a95"/><rect x="430" y="362" width="13" height="5" fill="#2e4d98"/><rect x="443" y="362" width="9" height="5" fill="#2c4a95"/><rect x="452" y="362" width="4" height="5" fill="#29448e"/><rect x="456" y="362" width="5" height="5" fill="#2e4d98"/><rect x="461" y="362" width="9" height="5" fill="#29448e"/><rect x="470" y="362" width="13" height="5" fill="#2b4792"/><rect x="483" y="362" width="9" height="5" fill="#29448e"/><rect x="492" y="362" width="4" height="5" fill="#2b4792"/><rect x="496" y="362" width="5" height="5" fill="#29448e"/><rect x="501" y="362" width="4" height="5" fill="#2b4792"/><rect x="505" y="362" width="5" height="5" fill="#29448e"/><rect x="74" y="367" width="27" height="4" fill="#e8f2fb"/><rect x="101" y="367" width="40" height="4" fill="#dceaf7"/><rect x="141" y="367" width="48" height="4" fill="#e8f2fb"/><rect x="189" y="367" width="63" height="4" fill="#bfd7ef"/><rect x="252" y="367" width="98" height="4" fill="#b9d4ef"/><rect x="350" y="367" width="44" height="4" fill="#a3c5e9"/><rect x="394" y="367" width="13" height="4" fill="#2b4792"/><rect x="407" y="367" width="5" height="4" fill="#2e4d98"/><rect x="412" y="367" width="4" height="4" fill="#2b4792"/><rect x="416" y="367" width="5" height="4" fill="#29448e"/><rect x="421" y="367" width="4" height="4" fill="#1d3380"/><rect x="425" y="367" width="5" height="4" fill="#2c4a95"/><rect x="430" y="367" width="22" height="4" fill="#2b4792"/><rect x="452" y="367" width="4" height="4" fill="#29448e"/><rect x="456" y="367" width="5" height="4" fill="#2e4d98"/><rect x="461" y="367" width="4" height="4" fill="#30509c"/><rect x="465" y="367" width="9" height="4" fill="#2c4a95"/><rect x="474" y="367" width="9" height="4" fill="#29448e"/><rect x="483" y="367" width="9" height="4" fill="#2b4792"/><rect x="492" y="367" width="4" height="4" fill="#2e4d98"/><rect x="496" y="367" width="5" height="4" fill="#2b4792"/><rect x="501" y="367" width="4" height="4" fill="#29448e"/><rect x="505" y="367" width="5" height="4" fill="#30509c"/><rect x="74" y="371" width="27" height="4" fill="#e8f2fb"/><rect x="101" y="371" width="40" height="4" fill="#dceaf7"/><rect x="141" y="371" width="48" height="4" fill="#e8f2fb"/><rect x="189" y="371" width="63" height="4" fill="#bfd7ef"/><rect x="252" y="371" width="98" height="4" fill="#b9d4ef"/><rect x="350" y="371" width="44" height="4" fill="#a3c5e9"/><rect x="394" y="371" width="5" height="4" fill="#29448e"/><rect x="399" y="371" width="4" height="4" fill="#2b4792"/><rect x="403" y="371" width="4" height="4" fill="#2c4a95"/><rect x="407" y="371" width="9" height="4" fill="#2b4792"/><rect x="416" y="371" width="9" height="4" fill="#2c4a95"/><rect x="425" y="371" width="5" height="4" fill="#1d3380"/><rect x="430" y="371" width="4" height="4" fill="#2b4792"/><rect x="434" y="371" width="5" height="4" fill="#29448e"/><rect x="439" y="371" width="4" height="4" fill="#2c4a95"/><rect x="443" y="371" width="4" height="4" fill="#29448e"/><rect x="447" y="371" width="5" height="4" fill="#2c4a95"/><rect x="452" y="371" width="4" height="4" fill="#30509c"/><rect x="456" y="371" width="9" height="4" fill="#2e4d98"/><rect x="465" y="371" width="14" height="4" fill="#2b4792"/><rect x="479" y="371" width="4" height="4" fill="#2e4d98"/><rect x="483" y="371" width="4" height="4" fill="#2c4a95"/><rect x="487" y="371" width="5" height="4" fill="#2e4d98"/><rect x="492" y="371" width="9" height="4" fill="#2b4792"/><rect x="501" y="371" width="4" height="4" fill="#2e4d98"/><rect x="505" y="371" width="5" height="4" fill="#30509c"/><rect x="74" y="375" width="27" height="5" fill="#e8f2fb"/><rect x="101" y="375" width="40" height="5" fill="#dceaf7"/><rect x="141" y="375" width="48" height="5" fill="#e8f2fb"/><rect x="189" y="375" width="63" height="5" fill="#bfd7ef"/><rect x="252" y="375" width="98" height="5" fill="#b9d4ef"/><rect x="350" y="375" width="44" height="5" fill="#a3c5e9"/><rect x="394" y="375" width="9" height="5" fill="#2b4792"/><rect x="403" y="375" width="4" height="5" fill="#29448e"/><rect x="407" y="375" width="5" height="5" fill="#2c4a95"/><rect x="412" y="375" width="4" height="5" fill="#30509c"/><rect x="416" y="375" width="5" height="5" fill="#2e4d98"/><rect x="421" y="375" width="9" height="5" fill="#2b4792"/><rect x="430" y="375" width="4" height="5" fill="#1d3380"/><rect x="434" y="375" width="9" height="5" fill="#2c4a95"/><rect x="443" y="375" width="9" height="5" fill="#2e4d98"/><rect x="452" y="375" width="4" height="5" fill="#2b4792"/><rect x="456" y="375" width="5" height="5" fill="#2c4a95"/><rect x="461" y="375" width="4" height="5" fill="#2b4792"/><rect x="465" y="375" width="9" height="5" fill="#29448e"/><rect x="474" y="375" width="9" height="5" fill="#2b4792"/><rect x="483" y="375" width="4" height="5" fill="#2e4d98"/><rect x="487" y="375" width="5" height="5" fill="#30509c"/><rect x="492" y="375" width="4" height="5" fill="#2c4a95"/><rect x="496" y="375" width="14" height="5" fill="#30509c"/><rect x="74" y="380" width="27" height="4" fill="#e8f2fb"/><rect x="101" y="380" width="40" height="4" fill="#dceaf7"/><rect x="141" y="380" width="48" height="4" fill="#e8f2fb"/><rect x="189" y="380" width="63" height="4" fill="#bfd7ef"/><rect x="252" y="380" width="98" height="4" fill="#b9d4ef"/><rect x="350" y="380" width="44" height="4" fill="#a3c5e9"/><rect x="394" y="380" width="5" height="4" fill="#29448e"/><rect x="399" y="380" width="8" height="4" fill="#2b4792"/><rect x="407" y="380" width="5" height="4" fill="#2e4d98"/><rect x="412" y="380" width="4" height="4" fill="#30509c"/><rect x="416" y="380" width="5" height="4" fill="#2e4d98"/><rect x="421" y="380" width="4" height="4" fill="#2b4792"/><rect x="425" y="380" width="5" height="4" fill="#29448e"/><rect x="430" y="380" width="4" height="4" fill="#2c4a95"/><rect x="434" y="380" width="5" height="4" fill="#1d3380"/><rect x="439" y="380" width="22" height="4" fill="#2b4792"/><rect x="461" y="380" width="4" height="4" fill="#2c4a95"/><rect x="465" y="380" width="5" height="4" fill="#30509c"/><rect x="470" y="380" width="4" height="4" fill="#2e4d98"/><rect x="474" y="380" width="5" height="4" fill="#2c4a95"/><rect x="479" y="380" width="8" height="4" fill="#2e4d98"/><rect x="487" y="380" width="5" height="4" fill="#29448e"/><rect x="492" y="380" width="4" height="4" fill="#2e4d98"/><rect x="496" y="380" width="5" height="4" fill="#30509c"/><rect x="501" y="380" width="9" height="4" fill="#2e4d98"/><rect x="74" y="384" width="27" height="5" fill="#e8f2fb"/><rect x="101" y="384" width="40" height="5" fill="#dceaf7"/><rect x="141" y="384" width="48" height="5" fill="#e8f2fb"/><rect x="189" y="384" width="63" height="5" fill="#bfd7ef"/><rect x="252" y="384" width="98" height="5" fill="#b9d4ef"/><rect x="350" y="384" width="44" height="5" fill="#a3c5e9"/><rect x="394" y="384" width="5" height="5" fill="#2b4792"/><rect x="399" y="384" width="13" height="5" fill="#29448e"/><rect x="412" y="384" width="4" height="5" fill="#2b4792"/><rect x="416" y="384" width="5" height="5" fill="#2e4d98"/><rect x="421" y="384" width="4" height="5" fill="#2b4792"/><rect x="425" y="384" width="9" height="5" fill="#2c4a95"/><rect x="434" y="384" width="5" height="5" fill="#2b4792"/><rect x="439" y="384" width="4" height="5" fill="#1d3380"/><rect x="443" y="384" width="4" height="5" fill="#2b4792"/><rect x="447" y="384" width="5" height="5" fill="#29448e"/><rect x="452" y="384" width="4" height="5" fill="#2e4d98"/><rect x="456" y="384" width="5" height="5" fill="#2b4792"/><rect x="461" y="384" width="4" height="5" fill="#2e4d98"/><rect x="465" y="384" width="5" height="5" fill="#30509c"/><rect x="470" y="384" width="9" height="5" fill="#2c4a95"/><rect x="479" y="384" width="4" height="5" fill="#30509c"/><rect x="483" y="384" width="4" height="5" fill="#2e4d98"/><rect x="487" y="384" width="14" height="5" fill="#2b4792"/><rect x="501" y="384" width="4" height="5" fill="#30509c"/><rect x="505" y="384" width="5" height="5" fill="#2e4d98"/><rect x="74" y="389" width="27" height="4" fill="#e8f2fb"/><rect x="101" y="389" width="40" height="4" fill="#dceaf7"/><rect x="141" y="389" width="48" height="4" fill="#e8f2fb"/><rect x="189" y="389" width="63" height="4" fill="#bfd7ef"/><rect x="252" y="389" width="98" height="4" fill="#b9d4ef"/><rect x="350" y="389" width="44" height="4" fill="#a3c5e9"/><rect x="394" y="389" width="9" height="4" fill="#29448e"/><rect x="403" y="389" width="4" height="4" fill="#2b4792"/><rect x="407" y="389" width="5" height="4" fill="#2c4a95"/><rect x="412" y="389" width="4" height="4" fill="#2b4792"/><rect x="416" y="389" width="5" height="4" fill="#2c4a95"/><rect x="421" y="389" width="4" height="4" fill="#2b4792"/><rect x="425" y="389" width="5" height="4" fill="#29448e"/><rect x="430" y="389" width="4" height="4" fill="#2e4d98"/><rect x="434" y="389" width="9" height="4" fill="#2b4792"/><rect x="443" y="389" width="4" height="4" fill="#1d3380"/><rect x="447" y="389" width="5" height="4" fill="#29448e"/><rect x="452" y="389" width="4" height="4" fill="#2c4a95"/><rect x="456" y="389" width="5" height="4" fill="#30509c"/><rect x="461" y="389" width="4" height="4" fill="#2e4d98"/><rect x="465" y="389" width="5" height="4" fill="#2b4792"/><rect x="470" y="389" width="4" height="4" fill="#2c4a95"/><rect x="474" y="389" width="5" height="4" fill="#2b4792"/><rect x="479" y="389" width="4" height="4" fill="#29448e"/><rect x="483" y="389" width="4" height="4" fill="#30509c"/><rect x="487" y="389" width="5" height="4" fill="#2e4d98"/><rect x="492" y="389" width="4" height="4" fill="#2c4a95"/><rect x="496" y="389" width="5" height="4" fill="#30509c"/><rect x="501" y="389" width="4" height="4" fill="#2c4a95"/><rect x="505" y="389" width="5" height="4" fill="#2e4d98"/><rect x="74" y="393" width="27" height="5" fill="#e8f2fb"/><rect x="101" y="393" width="40" height="5" fill="#dceaf7"/><rect x="141" y="393" width="48" height="5" fill="#e8f2fb"/><rect x="189" y="393" width="63" height="5" fill="#bfd7ef"/><rect x="252" y="393" width="98" height="5" fill="#b9d4ef"/><rect x="350" y="393" width="44" height="5" fill="#a3c5e9"/><rect x="394" y="393" width="9" height="5" fill="#29448e"/><rect x="403" y="393" width="4" height="5" fill="#2c4a95"/><rect x="407" y="393" width="9" height="5" fill="#2b4792"/><rect x="416" y="393" width="5" height="5" fill="#2c4a95"/><rect x="421" y="393" width="4" height="5" fill="#2b4792"/><rect x="425" y="393" width="5" height="5" fill="#2c4a95"/><rect x="430" y="393" width="4" height="5" fill="#2e4d98"/><rect x="434" y="393" width="5" height="5" fill="#2b4792"/><rect x="439" y="393" width="8" height="5" fill="#29448e"/><rect x="447" y="393" width="5" height="5" fill="#1d3380"/><rect x="452" y="393" width="4" height="5" fill="#2c4a95"/><rect x="456" y="393" width="18" height="5" fill="#2b4792"/><rect x="474" y="393" width="5" height="5" fill="#2c4a95"/><rect x="479" y="393" width="4" height="5" fill="#2b4792"/><rect x="483" y="393" width="4" height="5" fill="#2c4a95"/><rect x="487" y="393" width="5" height="5" fill="#2b4792"/><rect x="492" y="393" width="4" height="5" fill="#30509c"/><rect x="496" y="393" width="5" height="5" fill="#2b4792"/><rect x="501" y="393" width="9" height="5" fill="#2c4a95"/><rect x="74" y="398" width="27" height="4" fill="#e8f2fb"/><rect x="101" y="398" width="40" height="4" fill="#dceaf7"/><rect x="141" y="398" width="48" height="4" fill="#e8f2fb"/><rect x="189" y="398" width="63" height="4" fill="#bfd7ef"/><rect x="252" y="398" width="98" height="4" fill="#b9d4ef"/><rect x="350" y="398" width="44" height="4" fill="#a3c5e9"/><rect x="394" y="398" width="13" height="4" fill="#2b4792"/><rect x="407" y="398" width="5" height="4" fill="#29448e"/><rect x="412" y="398" width="4" height="4" fill="#2b4792"/><rect x="416" y="398" width="9" height="4" fill="#29448e"/><rect x="425" y="398" width="5" height="4" fill="#30509c"/><rect x="430" y="398" width="9" height="4" fill="#2b4792"/><rect x="439" y="398" width="4" height="4" fill="#2e4d98"/><rect x="443" y="398" width="9" height="4" fill="#2c4a95"/><rect x="452" y="398" width="4" height="4" fill="#1d3380"/><rect x="456" y="398" width="5" height="4" fill="#2c4a95"/><rect x="461" y="398" width="4" height="4" fill="#2b4792"/><rect x="465" y="398" width="5" height="4" fill="#30509c"/><rect x="470" y="398" width="13" height="4" fill="#2c4a95"/><rect x="483" y="398" width="4" height="4" fill="#29448e"/><rect x="487" y="398" width="5" height="4" fill="#2c4a95"/><rect x="492" y="398" width="4" height="4" fill="#2b4792"/><rect x="496" y="398" width="5" height="4" fill="#29448e"/><rect x="501" y="398" width="4" height="4" fill="#2e4d98"/><rect x="505" y="398" width="5" height="4" fill="#2b4792"/><rect x="74" y="402" width="27" height="5" fill="#e8f2fb"/><rect x="101" y="402" width="40" height="5" fill="#dceaf7"/><rect x="141" y="402" width="48" height="5" fill="#e8f2fb"/><rect x="189" y="402" width="63" height="5" fill="#bfd7ef"/><rect x="252" y="402" width="98" height="5" fill="#b9d4ef"/><rect x="350" y="402" width="44" height="5" fill="#a3c5e9"/><rect x="394" y="402" width="5" height="5" fill="#2c4a95"/><rect x="399" y="402" width="4" height="5" fill="#2b4792"/><rect x="403" y="402" width="4" height="5" fill="#2c4a95"/><rect x="407" y="402" width="5" height="5" fill="#29448e"/><rect x="412" y="402" width="4" height="5" fill="#2c4a95"/><rect x="416" y="402" width="14" height="5" fill="#2e4d98"/><rect x="430" y="402" width="4" height="5" fill="#2c4a95"/><rect x="434" y="402" width="9" height="5" fill="#2b4792"/><rect x="443" y="402" width="4" height="5" fill="#30509c"/><rect x="447" y="402" width="5" height="5" fill="#2b4792"/><rect x="452" y="402" width="4" height="5" fill="#2c4a95"/><rect x="456" y="402" width="5" height="5" fill="#1d3380"/><rect x="461" y="402" width="4" height="5" fill="#2b4792"/><rect x="465" y="402" width="9" height="5" fill="#2c4a95"/><rect x="474" y="402" width="5" height="5" fill="#2b4792"/><rect x="479" y="402" width="8" height="5" fill="#2c4a95"/><rect x="487" y="402" width="5" height="5" fill="#2e4d98"/><rect x="492" y="402" width="4" height="5" fill="#29448e"/><rect x="496" y="402" width="5" height="5" fill="#2c4a95"/><rect x="501" y="402" width="9" height="5" fill="#2b4792"/><rect x="74" y="407" width="27" height="4" fill="#e8f2fb"/><rect x="101" y="407" width="40" height="4" fill="#dceaf7"/><rect x="141" y="407" width="48" height="4" fill="#e8f2fb"/><rect x="189" y="407" width="63" height="4" fill="#bfd7ef"/><rect x="252" y="407" width="98" height="4" fill="#b9d4ef"/><rect x="350" y="407" width="44" height="4" fill="#a3c5e9"/><rect x="394" y="407" width="5" height="4" fill="#29448e"/><rect x="399" y="407" width="8" height="4" fill="#2b4792"/><rect x="407" y="407" width="5" height="4" fill="#2e4d98"/><rect x="412" y="407" width="4" height="4" fill="#2c4a95"/><rect x="416" y="407" width="5" height="4" fill="#29448e"/><rect x="421" y="407" width="4" height="4" fill="#30509c"/><rect x="425" y="407" width="5" height="4" fill="#2e4d98"/><rect x="430" y="407" width="4" height="4" fill="#2b4792"/><rect x="434" y="407" width="5" height="4" fill="#2c4a95"/><rect x="439" y="407" width="8" height="4" fill="#2e4d98"/><rect x="447" y="407" width="14" height="4" fill="#2b4792"/><rect x="461" y="407" width="4" height="4" fill="#1d3380"/><rect x="465" y="407" width="5" height="4" fill="#2c4a95"/><rect x="470" y="407" width="4" height="4" fill="#2b4792"/><rect x="474" y="407" width="5" height="4" fill="#2c4a95"/><rect x="479" y="407" width="4" height="4" fill="#2e4d98"/><rect x="483" y="407" width="4" height="4" fill="#30509c"/><rect x="487" y="407" width="18" height="4" fill="#2c4a95"/><rect x="505" y="407" width="5" height="4" fill="#2e4d98"/><rect x="74" y="411" width="27" height="4" fill="#e8f2fb"/><rect x="101" y="411" width="40" height="4" fill="#dceaf7"/><rect x="141" y="411" width="48" height="4" fill="#e8f2fb"/><rect x="189" y="411" width="63" height="4" fill="#bfd7ef"/><rect x="252" y="411" width="98" height="4" fill="#b9d4ef"/><rect x="350" y="411" width="44" height="4" fill="#a3c5e9"/><rect x="394" y="411" width="5" height="4" fill="#29448e"/><rect x="399" y="411" width="17" height="4" fill="#2b4792"/><rect x="416" y="411" width="5" height="4" fill="#29448e"/><rect x="421" y="411" width="4" height="4" fill="#2c4a95"/><rect x="425" y="411" width="5" height="4" fill="#2b4792"/><rect x="430" y="411" width="4" height="4" fill="#29448e"/><rect x="434" y="411" width="9" height="4" fill="#30509c"/><rect x="443" y="411" width="9" height="4" fill="#2b4792"/><rect x="452" y="411" width="4" height="4" fill="#30509c"/><rect x="456" y="411" width="9" height="4" fill="#2c4a95"/><rect x="465" y="411" width="5" height="4" fill="#1d3380"/><rect x="470" y="411" width="9" height="4" fill="#2b4792"/><rect x="479" y="411" width="4" height="4" fill="#2c4a95"/><rect x="483" y="411" width="4" height="4" fill="#30509c"/><rect x="487" y="411" width="5" height="4" fill="#2e4d98"/><rect x="492" y="411" width="9" height="4" fill="#30509c"/><rect x="501" y="411" width="4" height="4" fill="#2b4792"/><rect x="505" y="411" width="5" height="4" fill="#2c4a95"/><rect x="74" y="415" width="27" height="5" fill="#e8f2fb"/><rect x="101" y="415" width="40" height="5" fill="#dceaf7"/><rect x="141" y="415" width="48" height="5" fill="#e8f2fb"/><rect x="189" y="415" width="63" height="5" fill="#bfd7ef"/><rect x="252" y="415" width="98" height="5" fill="#b9d4ef"/><rect x="350" y="415" width="44" height="5" fill="#a3c5e9"/><rect x="394" y="415" width="18" height="5" fill="#2b4792"/><rect x="412" y="415" width="4" height="5" fill="#29448e"/><rect x="416" y="415" width="5" height="5" fill="#2b4792"/><rect x="421" y="415" width="4" height="5" fill="#2c4a95"/><rect x="425" y="415" width="5" height="5" fill="#2b4792"/><rect x="430" y="415" width="4" height="5" fill="#29448e"/><rect x="434" y="415" width="5" height="5" fill="#2e4d98"/><rect x="439" y="415" width="8" height="5" fill="#2c4a95"/><rect x="447" y="415" width="5" height="5" fill="#2b4792"/><rect x="452" y="415" width="9" height="5" fill="#2c4a95"/><rect x="461" y="415" width="9" height="5" fill="#2b4792"/><rect x="470" y="415" width="4" height="5" fill="#1d3380"/><rect x="474" y="415" width="9" height="5" fill="#2c4a95"/><rect x="483" y="415" width="4" height="5" fill="#2b4792"/><rect x="487" y="415" width="5" height="5" fill="#29448e"/><rect x="492" y="415" width="4" height="5" fill="#2c4a95"/><rect x="496" y="415" width="5" height="5" fill="#29448e"/><rect x="501" y="415" width="4" height="5" fill="#2b4792"/><rect x="505" y="415" width="5" height="5" fill="#29448e"/><rect x="74" y="420" width="27" height="4" fill="#e8f2fb"/><rect x="101" y="420" width="40" height="4" fill="#dceaf7"/><rect x="141" y="420" width="48" height="4" fill="#e8f2fb"/><rect x="189" y="420" width="63" height="4" fill="#bfd7ef"/><rect x="252" y="420" width="98" height="4" fill="#b9d4ef"/><rect x="350" y="420" width="44" height="4" fill="#a3c5e9"/><rect x="394" y="420" width="5" height="4" fill="#2c4a95"/><rect x="399" y="420" width="8" height="4" fill="#2b4792"/><rect x="407" y="420" width="9" height="4" fill="#2c4a95"/><rect x="416" y="420" width="5" height="4" fill="#2b4792"/><rect x="421" y="420" width="4" height="4" fill="#29448e"/><rect x="425" y="420" width="9" height="4" fill="#2b4792"/><rect x="434" y="420" width="9" height="4" fill="#2c4a95"/><rect x="443" y="420" width="4" height="4" fill="#2b4792"/><rect x="447" y="420" width="9" height="4" fill="#2c4a95"/><rect x="456" y="420" width="5" height="4" fill="#2b4792"/><rect x="461" y="420" width="4" height="4" fill="#2c4a95"/><rect x="465" y="420" width="5" height="4" fill="#2b4792"/><rect x="470" y="420" width="4" height="4" fill="#2c4a95"/><rect x="474" y="420" width="5" height="4" fill="#1d3380"/><rect x="479" y="420" width="8" height="4" fill="#2c4a95"/><rect x="487" y="420" width="5" height="4" fill="#30509c"/><rect x="492" y="420" width="4" height="4" fill="#2b4792"/><rect x="496" y="420" width="9" height="4" fill="#2e4d98"/><rect x="505" y="420" width="5" height="4" fill="#2b4792"/><rect x="74" y="424" width="27" height="5" fill="#e8f2fb"/><rect x="101" y="424" width="40" height="5" fill="#dceaf7"/><rect x="141" y="424" width="48" height="5" fill="#e8f2fb"/><rect x="189" y="424" width="63" height="5" fill="#bfd7ef"/><rect x="252" y="424" width="98" height="5" fill="#b9d4ef"/><rect x="350" y="424" width="44" height="5" fill="#a3c5e9"/><rect x="394" y="424" width="5" height="5" fill="#2b4792"/><rect x="399" y="424" width="4" height="5" fill="#2c4a95"/><rect x="403" y="424" width="4" height="5" fill="#2b4792"/><rect x="407" y="424" width="5" height="5" fill="#2e4d98"/><rect x="412" y="424" width="9" height="5" fill="#2b4792"/><rect x="421" y="424" width="4" height="5" fill="#29448e"/><rect x="425" y="424" width="5" height="5" fill="#2e4d98"/><rect x="430" y="424" width="4" height="5" fill="#2b4792"/><rect x="434" y="424" width="5" height="5" fill="#2e4d98"/><rect x="439" y="424" width="4" height="5" fill="#30509c"/><rect x="443" y="424" width="4" height="5" fill="#29448e"/><rect x="447" y="424" width="5" height="5" fill="#2b4792"/><rect x="452" y="424" width="9" height="5" fill="#2c4a95"/><rect x="461" y="424" width="4" height="5" fill="#2e4d98"/><rect x="465" y="424" width="14" height="5" fill="#2c4a95"/><rect x="479" y="424" width="4" height="5" fill="#1d3380"/><rect x="483" y="424" width="9" height="5" fill="#2c4a95"/><rect x="492" y="424" width="4" height="5" fill="#2b4792"/><rect x="496" y="424" width="5" height="5" fill="#30509c"/><rect x="501" y="424" width="9" height="5" fill="#2c4a95"/><rect x="74" y="429" width="27" height="4" fill="#e8f2fb"/><rect x="101" y="429" width="40" height="4" fill="#dceaf7"/><rect x="141" y="429" width="48" height="4" fill="#e8f2fb"/><rect x="189" y="429" width="63" height="4" fill="#bfd7ef"/><rect x="252" y="429" width="98" height="4" fill="#b9d4ef"/><rect x="350" y="429" width="44" height="4" fill="#a3c5e9"/><rect x="394" y="429" width="9" height="4" fill="#2b4792"/><rect x="403" y="429" width="4" height="4" fill="#2c4a95"/><rect x="407" y="429" width="5" height="4" fill="#29448e"/><rect x="412" y="429" width="4" height="4" fill="#2c4a95"/><rect x="416" y="429" width="5" height="4" fill="#29448e"/><rect x="421" y="429" width="4" height="4" fill="#2b4792"/><rect x="425" y="429" width="5" height="4" fill="#2c4a95"/><rect x="430" y="429" width="13" height="4" fill="#2e4d98"/><rect x="443" y="429" width="4" height="4" fill="#30509c"/><rect x="447" y="429" width="5" height="4" fill="#2c4a95"/><rect x="452" y="429" width="4" height="4" fill="#29448e"/><rect x="456" y="429" width="5" height="4" fill="#2c4a95"/><rect x="461" y="429" width="9" height="4" fill="#30509c"/><rect x="470" y="429" width="4" height="4" fill="#2b4792"/><rect x="474" y="429" width="9" height="4" fill="#2c4a95"/><rect x="483" y="429" width="4" height="4" fill="#1d3380"/><rect x="487" y="429" width="9" height="4" fill="#2c4a95"/><rect x="496" y="429" width="5" height="4" fill="#2b4792"/><rect x="501" y="429" width="9" height="4" fill="#2c4a95"/><rect x="74" y="433" width="27" height="5" fill="#e8f2fb"/><rect x="101" y="433" width="40" height="5" fill="#dceaf7"/><rect x="141" y="433" width="48" height="5" fill="#e8f2fb"/><rect x="189" y="433" width="63" height="5" fill="#bfd7ef"/><rect x="252" y="433" width="98" height="5" fill="#b9d4ef"/><rect x="350" y="433" width="44" height="5" fill="#a3c5e9"/><rect x="394" y="433" width="5" height="5" fill="#2c4a95"/><rect x="399" y="433" width="4" height="5" fill="#29448e"/><rect x="403" y="433" width="9" height="5" fill="#2c4a95"/><rect x="412" y="433" width="4" height="5" fill="#30509c"/><rect x="416" y="433" width="5" height="5" fill="#29448e"/><rect x="421" y="433" width="4" height="5" fill="#2b4792"/><rect x="425" y="433" width="5" height="5" fill="#2e4d98"/><rect x="430" y="433" width="4" height="5" fill="#30509c"/><rect x="434" y="433" width="5" height="5" fill="#29448e"/><rect x="439" y="433" width="4" height="5" fill="#2b4792"/><rect x="443" y="433" width="4" height="5" fill="#2e4d98"/><rect x="447" y="433" width="5" height="5" fill="#2b4792"/><rect x="452" y="433" width="4" height="5" fill="#2c4a95"/><rect x="456" y="433" width="5" height="5" fill="#2e4d98"/><rect x="461" y="433" width="4" height="5" fill="#2c4a95"/><rect x="465" y="433" width="5" height="5" fill="#2e4d98"/><rect x="470" y="433" width="4" height="5" fill="#29448e"/><rect x="474" y="433" width="5" height="5" fill="#30509c"/><rect x="479" y="433" width="8" height="5" fill="#2c4a95"/><rect x="487" y="433" width="5" height="5" fill="#1d3380"/><rect x="492" y="433" width="4" height="5" fill="#2b4792"/><rect x="496" y="433" width="5" height="5" fill="#29448e"/><rect x="501" y="433" width="4" height="5" fill="#2b4792"/><rect x="505" y="433" width="5" height="5" fill="#2e4d98"/><rect x="74" y="438" width="27" height="4" fill="#e8f2fb"/><rect x="101" y="438" width="40" height="4" fill="#dceaf7"/><rect x="141" y="438" width="48" height="4" fill="#e8f2fb"/><rect x="189" y="438" width="63" height="4" fill="#bfd7ef"/><rect x="252" y="438" width="98" height="4" fill="#b9d4ef"/><rect x="350" y="438" width="44" height="4" fill="#a3c5e9"/><rect x="394" y="438" width="5" height="4" fill="#29448e"/><rect x="399" y="438" width="8" height="4" fill="#2b4792"/><rect x="407" y="438" width="5" height="4" fill="#2c4a95"/><rect x="412" y="438" width="4" height="4" fill="#2e4d98"/><rect x="416" y="438" width="5" height="4" fill="#2b4792"/><rect x="421" y="438" width="4" height="4" fill="#2e4d98"/><rect x="425" y="438" width="5" height="4" fill="#2b4792"/><rect x="430" y="438" width="4" height="4" fill="#2c4a95"/><rect x="434" y="438" width="5" height="4" fill="#2e4d98"/><rect x="439" y="438" width="4" height="4" fill="#2b4792"/><rect x="443" y="438" width="4" height="4" fill="#2c4a95"/><rect x="447" y="438" width="5" height="4" fill="#30509c"/><rect x="452" y="438" width="4" height="4" fill="#2b4792"/><rect x="456" y="438" width="5" height="4" fill="#29448e"/><rect x="461" y="438" width="4" height="4" fill="#2c4a95"/><rect x="465" y="438" width="5" height="4" fill="#30509c"/><rect x="470" y="438" width="4" height="4" fill="#2c4a95"/><rect x="474" y="438" width="9" height="4" fill="#2b4792"/><rect x="483" y="438" width="4" height="4" fill="#2c4a95"/><rect x="487" y="438" width="5" height="4" fill="#2b4792"/><rect x="492" y="438" width="4" height="4" fill="#1d3380"/><rect x="496" y="438" width="5" height="4" fill="#29448e"/><rect x="501" y="438" width="4" height="4" fill="#2b4792"/><rect x="505" y="438" width="5" height="4" fill="#2c4a95"/><rect x="74" y="442" width="27" height="5" fill="#e8f2fb"/><rect x="101" y="442" width="40" height="5" fill="#dceaf7"/><rect x="141" y="442" width="48" height="5" fill="#e8f2fb"/><rect x="189" y="442" width="63" height="5" fill="#bfd7ef"/><rect x="252" y="442" width="98" height="5" fill="#b9d4ef"/><rect x="350" y="442" width="44" height="5" fill="#a3c5e9"/><rect x="394" y="442" width="5" height="5" fill="#2c4a95"/><rect x="399" y="442" width="8" height="5" fill="#2b4792"/><rect x="407" y="442" width="5" height="5" fill="#30509c"/><rect x="412" y="442" width="4" height="5" fill="#2c4a95"/><rect x="416" y="442" width="5" height="5" fill="#29448e"/><rect x="421" y="442" width="9" height="5" fill="#2b4792"/><rect x="430" y="442" width="9" height="5" fill="#30509c"/><rect x="439" y="442" width="4" height="5" fill="#2b4792"/><rect x="443" y="442" width="4" height="5" fill="#30509c"/><rect x="447" y="442" width="5" height="5" fill="#2b4792"/><rect x="452" y="442" width="4" height="5" fill="#29448e"/><rect x="456" y="442" width="9" height="5" fill="#2c4a95"/><rect x="465" y="442" width="5" height="5" fill="#30509c"/><rect x="470" y="442" width="4" height="5" fill="#29448e"/><rect x="474" y="442" width="5" height="5" fill="#2e4d98"/><rect x="479" y="442" width="4" height="5" fill="#30509c"/><rect x="483" y="442" width="4" height="5" fill="#2b4792"/><rect x="487" y="442" width="9" height="5" fill="#29448e"/><rect x="496" y="442" width="5" height="5" fill="#1d3380"/><rect x="501" y="442" width="4" height="5" fill="#29448e"/><rect x="505" y="442" width="5" height="5" fill="#2b4792"/><rect x="74" y="447" width="27" height="4" fill="#e8f2fb"/><rect x="101" y="447" width="40" height="4" fill="#dceaf7"/><rect x="141" y="447" width="48" height="4" fill="#e8f2fb"/><rect x="189" y="447" width="63" height="4" fill="#bfd7ef"/><rect x="252" y="447" width="98" height="4" fill="#b9d4ef"/><rect x="350" y="447" width="44" height="4" fill="#a3c5e9"/><rect x="394" y="447" width="5" height="4" fill="#2b4792"/><rect x="399" y="447" width="4" height="4" fill="#2c4a95"/><rect x="403" y="447" width="4" height="4" fill="#29448e"/><rect x="407" y="447" width="5" height="4" fill="#2e4d98"/><rect x="412" y="447" width="4" height="4" fill="#2c4a95"/><rect x="416" y="447" width="5" height="4" fill="#2b4792"/><rect x="421" y="447" width="4" height="4" fill="#29448e"/><rect x="425" y="447" width="5" height="4" fill="#2e4d98"/><rect x="430" y="447" width="4" height="4" fill="#30509c"/><rect x="434" y="447" width="5" height="4" fill="#2e4d98"/><rect x="439" y="447" width="4" height="4" fill="#30509c"/><rect x="443" y="447" width="9" height="4" fill="#2c4a95"/><rect x="452" y="447" width="4" height="4" fill="#2e4d98"/><rect x="456" y="447" width="5" height="4" fill="#2b4792"/><rect x="461" y="447" width="4" height="4" fill="#2c4a95"/><rect x="465" y="447" width="9" height="4" fill="#2b4792"/><rect x="474" y="447" width="5" height="4" fill="#2e4d98"/><rect x="479" y="447" width="8" height="4" fill="#2c4a95"/><rect x="487" y="447" width="9" height="4" fill="#2b4792"/><rect x="496" y="447" width="5" height="4" fill="#29448e"/><rect x="501" y="447" width="4" height="4" fill="#1d3380"/><rect x="505" y="447" width="5" height="4" fill="#2b4792"/><rect x="74" y="451" width="27" height="4" fill="#e8f2fb"/><rect x="101" y="451" width="40" height="4" fill="#dceaf7"/><rect x="141" y="451" width="48" height="4" fill="#e8f2fb"/><rect x="189" y="451" width="63" height="4" fill="#bfd7ef"/><rect x="252" y="451" width="98" height="4" fill="#b9d4ef"/><rect x="350" y="451" width="44" height="4" fill="#a3c5e9"/><rect x="394" y="451" width="5" height="4" fill="#29448e"/><rect x="399" y="451" width="8" height="4" fill="#2b4792"/><rect x="407" y="451" width="9" height="4" fill="#2e4d98"/><rect x="416" y="451" width="5" height="4" fill="#29448e"/><rect x="421" y="451" width="13" height="4" fill="#30509c"/><rect x="434" y="451" width="13" height="4" fill="#2e4d98"/><rect x="447" y="451" width="5" height="4" fill="#2c4a95"/><rect x="452" y="451" width="9" height="4" fill="#2b4792"/><rect x="461" y="451" width="4" height="4" fill="#2e4d98"/><rect x="465" y="451" width="5" height="4" fill="#2c4a95"/><rect x="470" y="451" width="4" height="4" fill="#29448e"/><rect x="474" y="451" width="5" height="4" fill="#2b4792"/><rect x="479" y="451" width="8" height="4" fill="#2c4a95"/><rect x="487" y="451" width="5" height="4" fill="#2e4d98"/><rect x="492" y="451" width="4" height="4" fill="#2c4a95"/><rect x="496" y="451" width="9" height="4" fill="#2b4792"/><rect x="505" y="451" width="5" height="4" fill="#1d3380"/></g><path d="M74 20h1V456h-1zM74 20H511v1H74zM78 20h1V456h-1zM74 24H511v1H74zM83 20h1V456h-1zM74 29H511v1H74zM87 20h1V456h-1zM74 33H511v1H74zM92 20h1V456h-1zM74 37H511v1H74zM96 20h1V456h-1zM74 42H511v1H74zM101 20h1V456h-1zM74 46H511v1H74zM105 20h1V456h-1zM74 51H511v1H74zM109 20h1V456h-1zM74 55H511v1H74zM114 20h1V456h-1zM74 60H511v1H74zM118 20h1V456h-1zM74 64H511v1H74zM123 20h1V456h-1zM74 69H511v1H74zM127 20h1V456h-1zM74 73H511v1H74zM132 20h1V456h-1zM74 77H511v1H74zM136 20h1V456h-1zM74 82H511v1H74zM141 20h1V456h-1zM74 86H511v1H74zM145 20h1V456h-1zM74 91H511v1H74zM149 20h1V456h-1zM74 95H511v1H74zM154 20h1V456h-1zM74 100H511v1H74zM158 20h1V456h-1zM74 104H511v1H74zM163 20h1V456h-1zM74 109H511v1H74zM167 20h1V456h-1zM74 113H511v1H74zM172 20h1V456h-1zM74 117H511v1H74zM176 20h1V456h-1zM74 122H511v1H74zM181 20h1V456h-1zM74 126H511v1H74zM185 20h1V456h-1zM74 131H511v1H74zM189 20h1V456h-1zM74 135H511v1H74zM194 20h1V456h-1zM74 140H511v1H74zM198 20h1V456h-1zM74 144H511v1H74zM203 20h1V456h-1zM74 149H511v1H74zM207 20h1V456h-1zM74 153H511v1H74zM212 20h1V456h-1zM74 158H511v1H74zM216 20h1V456h-1zM74 162H511v1H74zM221 20h1V456h-1zM74 166H511v1H74zM225 20h1V456h-1zM74 171H511v1H74zM230 20h1V456h-1zM74 175H511v1H74zM234 20h1V456h-1zM74 180H511v1H74zM238 20h1V456h-1zM74 184H511v1H74zM243 20h1V456h-1zM74 189H511v1H74zM247 20h1V456h-1zM74 193H511v1H74zM252 20h1V456h-1zM74 198H511v1H74zM256 20h1V456h-1zM74 202H511v1H74zM261 20h1V456h-1zM74 206H511v1H74zM265 20h1V456h-1zM74 211H511v1H74zM270 20h1V456h-1zM74 215H511v1H74zM274 20h1V456h-1zM74 220H511v1H74zM278 20h1V456h-1zM74 224H511v1H74zM283 20h1V456h-1zM74 229H511v1H74zM287 20h1V456h-1zM74 233H511v1H74zM292 20h1V456h-1zM74 238H511v1H74zM296 20h1V456h-1zM74 242H511v1H74zM301 20h1V456h-1zM74 246H511v1H74zM305 20h1V456h-1zM74 251H511v1H74zM310 20h1V456h-1zM74 255H511v1H74zM314 20h1V456h-1zM74 260H511v1H74zM318 20h1V456h-1zM74 264H511v1H74zM323 20h1V456h-1zM74 269H511v1H74zM327 20h1V456h-1zM74 273H511v1H74zM332 20h1V456h-1zM74 278H511v1H74zM336 20h1V456h-1zM74 282H511v1H74zM341 20h1V456h-1zM74 286H511v1H74zM345 20h1V456h-1zM74 291H511v1H74zM350 20h1V456h-1zM74 295H511v1H74zM354 20h1V456h-1zM74 300H511v1H74zM358 20h1V456h-1zM74 304H511v1H74zM363 20h1V456h-1zM74 309H511v1H74zM367 20h1V456h-1zM74 313H511v1H74zM372 20h1V456h-1zM74 318H511v1H74zM376 20h1V456h-1zM74 322H511v1H74zM381 20h1V456h-1zM74 326H511v1H74zM385 20h1V456h-1zM74 331H511v1H74zM390 20h1V456h-1zM74 335H511v1H74zM394 20h1V456h-1zM74 340H511v1H74zM399 20h1V456h-1zM74 344H511v1H74zM403 20h1V456h-1zM74 349H511v1H74zM407 20h1V456h-1zM74 353H511v1H74zM412 20h1V456h-1zM74 358H511v1H74zM416 20h1V456h-1zM74 362H511v1H74zM421 20h1V456h-1zM74 367H511v1H74zM425 20h1V456h-1zM74 371H511v1H74zM430 20h1V456h-1zM74 375H511v1H74zM434 20h1V456h-1zM74 380H511v1H74zM439 20h1V456h-1zM74 384H511v1H74zM443 20h1V456h-1zM74 389H511v1H74zM447 20h1V456h-1zM74 393H511v1H74zM452 20h1V456h-1zM74 398H511v1H74zM456 20h1V456h-1zM74 402H511v1H74zM461 20h1V456h-1zM74 407H511v1H74zM465 20h1V456h-1zM74 411H511v1H74zM470 20h1V456h-1zM74 415H511v1H74zM474 20h1V456h-1zM74 420H511v1H74zM479 20h1V456h-1zM74 424H511v1H74zM483 20h1V456h-1zM74 429H511v1H74zM487 20h1V456h-1zM74 433H511v1H74zM492 20h1V456h-1zM74 438H511v1H74zM496 20h1V456h-1zM74 442H511v1H74zM501 20h1V456h-1zM74 447H511v1H74zM505 20h1V456h-1zM74 451H511v1H74zM510 20h1V456h-1zM74 455H511v1H74z" fill="#787878" fill-opacity="0.68" shape-rendering="crispEdges"/><path d="M101 20h1.2V456h-1.2zM9.7 46H511v1.2H9.7zM141 20h1.2V456h-1.2zM9.7 86H511v1.2H9.7zM189 20h1.2V456h-1.2zM9.7 135H511v1.2H9.7zM194 20h1.2V456h-1.2zM9.7 140H511v1.2H9.7zM252 20h1.2V456h-1.2zM9.7 198H511v1.2H9.7zM350 20h1.2V456h-1.2zM9.7 295H511v1.2H9.7z" fill="#1e1e1e"/><path d="M70.50 40.50V44.50M70.50 40.50H74.00M70.50 44.50H74.00M67.50 35.50V42.50M67.50 35.50H74.00M67.50 42.50H70.50M64.50 31.50V39.50M64.50 31.50H74.00M64.50 39.50H67.50M61.50 26.50V35.50M61.50 26.50H74.00M61.50 35.50H64.50M58.50 22.50V30.50M58.50 22.50H74.00M58.50 30.50H61.50M49.50 26.50H58.50M70.50 49.50V53.50M70.50 49.50H74.00M70.50 53.50H74.00M70.50 57.50V62.50M70.50 57.50H74.00M70.50 62.50H74.00M70.50 80.50V84.50M70.50 80.50H74.00M70.50 84.50H74.00M67.50 75.50V82.50M67.50 75.50H74.00M67.50 82.50H70.50M64.50 71.50V79.50M64.50 71.50H74.00M64.50 79.50H67.50M61.50 66.50V75.50M61.50 66.50H74.00M61.50 75.50H64.50M58.50 60.50V71.50M58.50 60.50H70.50M58.50 71.50H61.50M55.50 51.50V65.50M55.50 51.50H70.50M55.50 65.50H58.50M52.50 58.50H55.50M70.50 93.50V97.50M70.50 93.50H74.00M70.50 97.50H74.00M70.50 102.50V106.50M70.50 102.50H74.00M70.50 106.50H74.00M67.50 104.50V111.50M67.50 104.50H70.50M67.50 111.50H74.00M70.50 115.50V120.50M70.50 115.50H74.00M70.50 120.50H74.00M70.50 129.50V133.50M70.50 129.50H74.00M70.50 133.50H74.00M67.50 124.50V131.50M67.50 124.50H74.00M67.50 131.50H70.50M64.50 117.50V127.50M64.50 117.50H70.50M64.50 127.50H67.50M61.50 107.50V122.50M61.50 107.50H67.50M61.50 122.50H64.50M58.50 95.50V115.50M58.50 95.50H70.50M58.50 115.50H61.50M55.50 89.50V105.50M55.50 89.50H74.00M55.50 105.50H58.50M52.50 97.50H55.50M52.50 58.50V97.50M49.50 26.50V77.50M49.50 77.50H52.50M27.50 208.50V309.50M24.50 155.50V258.50M24.50 258.50H27.50M21.50 137.50V207.50M21.50 207.50H24.50M18.50 52.50V172.50M18.50 52.50H49.50M18.50 172.50H21.50M70.50 146.50V151.50M70.50 146.50H74.00M70.50 151.50H74.00M67.50 142.50V149.50M67.50 142.50H74.00M67.50 149.50H70.50M70.50 169.50V173.50M70.50 169.50H74.00M70.50 173.50H74.00M67.50 164.50V171.50M67.50 164.50H74.00M67.50 171.50H70.50M64.50 160.50V168.50M64.50 160.50H74.00M64.50 168.50H67.50M70.50 178.50V182.50M70.50 178.50H74.00M70.50 182.50H74.00M70.50 191.50V195.50M70.50 191.50H74.00M70.50 195.50H74.00M67.50 186.50V193.50M67.50 186.50H74.00M67.50 193.50H70.50M64.50 180.50V190.50M64.50 180.50H70.50M64.50 190.50H67.50M61.50 164.50V185.50M61.50 164.50H64.50M61.50 185.50H64.50M58.50 155.50V174.50M58.50 155.50H74.00M58.50 174.50H61.50M55.50 145.50V165.50M55.50 145.50H67.50M55.50 165.50H58.50M24.50 155.50H55.50M70.50 204.50V209.50M70.50 204.50H74.00M70.50 209.50H74.00M70.50 222.50V226.50M70.50 222.50H74.00M70.50 226.50H74.00M67.50 218.50V224.50M67.50 218.50H74.00M67.50 224.50H70.50M70.50 240.50V244.50M70.50 240.50H74.00M70.50 244.50H74.00M67.50 235.50V242.50M67.50 235.50H74.00M67.50 242.50H70.50M64.50 231.50V239.50M64.50 231.50H74.00M64.50 239.50H67.50M70.50 262.50V266.50M70.50 262.50H74.00M70.50 266.50H74.00M67.50 258.50V264.50M67.50 258.50H74.00M67.50 264.50H70.50M64.50 253.50V261.50M64.50 253.50H74.00M64.50 261.50H67.50M61.50 249.50V257.50M61.50 249.50H74.00M61.50 257.50H64.50M70.50 271.50V275.50M70.50 271.50H74.00M70.50 275.50H74.00M70.50 289.50V293.50M70.50 289.50H74.00M70.50 293.50H74.00M67.50 284.50V291.50M67.50 284.50H74.00M67.50 291.50H70.50M64.50 280.50V288.50M64.50 280.50H74.00M64.50 288.50H67.50M61.50 273.50V284.50M61.50 273.50H70.50M61.50 284.50H64.50M58.50 253.50V278.50M58.50 253.50H61.50M58.50 278.50H61.50M55.50 235.50V266.50M55.50 235.50H64.50M55.50 266.50H58.50M52.50 221.50V250.50M52.50 221.50H67.50M52.50 250.50H55.50M49.50 213.50V236.50M49.50 213.50H74.00M49.50 236.50H52.50M46.50 206.50V224.50M46.50 206.50H70.50M46.50 224.50H49.50M43.50 200.50V215.50M43.50 200.50H74.00M43.50 215.50H46.50M27.50 208.50H43.50M70.50 306.50V311.50M70.50 306.50H74.00M70.50 311.50H74.00M70.50 320.50V324.50M70.50 320.50H74.00M70.50 324.50H74.00M67.50 315.50V322.50M67.50 315.50H74.00M67.50 322.50H70.50M70.50 333.50V338.50M70.50 333.50H74.00M70.50 338.50H74.00M67.50 329.50V335.50M67.50 329.50H74.00M67.50 335.50H70.50M64.50 319.50V332.50M64.50 319.50H67.50M64.50 332.50H67.50M61.50 309.50V325.50M61.50 309.50H70.50M61.50 325.50H64.50M70.50 347.50V351.50M70.50 347.50H74.00M70.50 351.50H74.00M67.50 342.50V349.50M67.50 342.50H74.00M67.50 349.50H70.50M70.50 364.50V369.50M70.50 364.50H74.00M70.50 369.50H74.00M70.50 373.50V378.50M70.50 373.50H74.00M70.50 378.50H74.00M67.50 367.50V375.50M67.50 367.50H70.50M67.50 375.50H70.50M64.50 360.50V371.50M64.50 360.50H74.00M64.50 371.50H67.50M70.50 387.50V391.50M70.50 387.50H74.00M70.50 391.50H74.00M67.50 382.50V389.50M67.50 382.50H74.00M67.50 389.50H70.50M70.50 400.50V404.50M70.50 400.50H74.00M70.50 404.50H74.00M68.50 395.50V402.50M68.50 395.50H74.00M68.50 402.50H70.50M64.50 385.50V399.50M64.50 385.50H67.50M64.50 399.50H68.50M70.50 409.50V413.50M70.50 409.50H74.00M70.50 413.50H74.00M70.50 422.50V427.50M70.50 422.50H74.00M70.50 427.50H74.00M67.50 418.50V424.50M67.50 418.50H74.00M67.50 424.50H70.50M70.50 449.50V453.50M70.50 449.50H74.00M70.50 453.50H74.00M68.50 444.50V451.50M68.50 444.50H74.00M68.50 451.50H70.50M64.50 440.50V448.50M64.50 440.50H74.00M64.50 448.50H68.50M61.50 435.50V444.50M61.50 435.50H74.00M61.50 444.50H64.50M58.50 431.50V440.50M58.50 431.50H74.00M58.50 440.50H61.50M55.50 421.50V435.50M55.50 421.50H67.50M55.50 435.50H58.50M52.50 411.50V428.50M52.50 411.50H70.50M52.50 428.50H55.50M49.50 392.50V420.50M49.50 392.50H64.50M49.50 420.50H52.50M46.50 365.50V406.50M46.50 365.50H64.50M46.50 406.50H49.50M43.50 355.50V386.50M43.50 355.50H74.00M43.50 386.50H46.50M40.50 345.50V371.50M40.50 345.50H67.50M40.50 371.50H43.50M36.50 317.50V358.50M36.50 317.50H61.50M36.50 358.50H40.50M33.50 302.50V337.50M33.50 302.50H74.00M33.50 337.50H36.50M30.50 298.50V320.50M30.50 298.50H74.00M30.50 320.50H33.50M27.50 309.50H30.50M21.50 137.50H74.00" stroke="#454545" stroke-width="1.0" fill="none" stroke-linecap="square"/><rect x="9.7" y="21.10" width="64.67" height="25.50" fill="#6a4ea7" fill-opacity="0.3"/><rect x="9.7" y="46.60" width="64.67" height="40.00" fill="#c63a8a" fill-opacity="0.3"/><rect x="9.7" y="86.60" width="64.67" height="49.00" fill="#f08dc0" fill-opacity="0.3"/><rect x="9.7" y="135.60" width="64.67" height="5.00" fill="#9b9b9b" fill-opacity="0.3"/><rect x="9.7" y="140.60" width="64.67" height="58.00" fill="#2e8a2b" fill-opacity="0.3"/><rect x="9.7" y="198.60" width="64.67" height="97.00" fill="#2b7dbf" fill-opacity="0.3"/><rect x="9.7" y="295.60" width="64.67" height="160.40" fill="#184e77" fill-opacity="0.3"/><rect x="74.07" y="12.9" width="436.41" height="4.9" fill="#5a5a5a"/><rect x="74.92" y="13.6" width="3.35" height="3.5" fill="#10a010"/><rect x="79.37" y="13.6" width="3.35" height="3.5" fill="#e16565"/><rect x="83.81" y="13.6" width="3.35" height="3.5" fill="#10a010"/><rect x="88.26" y="13.6" width="3.35" height="3.5" fill="#fbe096"/><rect x="92.71" y="13.6" width="3.35" height="3.5" fill="#5f5f5f"/><rect x="97.16" y="13.6" width="3.35" height="3.5" fill="#fbe096"/><rect x="101.60" y="13.6" width="3.35" height="3.5" fill="#e16565"/><rect x="106.05" y="13.6" width="3.35" height="3.5" fill="#5f5f5f"/><rect x="110.50" y="13.6" width="3.35" height="3.5" fill="#1aa5df"/><rect x="114.94" y="13.6" width="3.35" height="3.5" fill="#5f5f5f"/><rect x="119.39" y="13.6" width="3.35" height="3.5" fill="#5f5f5f"/><rect x="123.84" y="13.6" width="3.35" height="3.5" fill="#e16565"/><rect x="128.28" y="13.6" width="3.35" height="3.5" fill="#e16565"/><rect x="132.73" y="13.6" width="3.35" height="3.5" fill="#10a010"/><rect x="137.18" y="13.6" width="3.35" height="3.5" fill="#10a010"/><rect x="141.62" y="13.6" width="3.35" height="3.5" fill="#a9c7ea"/><rect x="146.07" y="13.6" width="3.35" height="3.5" fill="#e16565"/><rect x="150.52" y="13.6" width="3.35" height="3.5" fill="#e16565"/><rect x="154.97" y="13.6" width="3.35" height="3.5" fill="#e16565"/><rect x="159.41" y="13.6" width="3.35" height="3.5" fill="#e16565"/><rect x="163.86" y="13.6" width="3.35" height="3.5" fill="#e16565"/><rect x="168.31" y="13.6" width="3.35" height="3.5" fill="#e16565"/><rect x="172.75" y="13.6" width="3.35" height="3.5" fill="#e16565"/><rect x="177.20" y="13.6" width="3.35" height="3.5" fill="#e16565"/><rect x="181.65" y="13.6" width="3.35" height="3.5" fill="#e16565"/><rect x="186.10" y="13.6" width="3.35" height="3.5" fill="#e16565"/><rect x="190.54" y="13.6" width="3.35" height="3.5" fill="#a9c7ea"/><rect x="194.99" y="13.6" width="3.35" height="3.5" fill="#1aa5df"/><rect x="199.44" y="13.6" width="3.35" height="3.5" fill="#e16565"/><rect x="203.88" y="13.6" width="3.35" height="3.5" fill="#a9c7ea"/><rect x="208.33" y="13.6" width="3.35" height="3.5" fill="#a9c7ea"/><rect x="212.78" y="13.6" width="3.35" height="3.5" fill="#5f5f5f"/><rect x="217.22" y="13.6" width="3.35" height="3.5" fill="#fbe096"/><rect x="221.67" y="13.6" width="3.35" height="3.5" fill="#5f5f5f"/><rect x="226.12" y="13.6" width="3.35" height="3.5" fill="#e16565"/><rect x="230.57" y="13.6" width="3.35" height="3.5" fill="#a9c7ea"/><rect x="235.01" y="13.6" width="3.35" height="3.5" fill="#5f5f5f"/><rect x="239.46" y="13.6" width="3.35" height="3.5" fill="#e16565"/><rect x="243.91" y="13.6" width="3.35" height="3.5" fill="#e16565"/><rect x="248.35" y="13.6" width="3.35" height="3.5" fill="#e16565"/><rect x="252.80" y="13.6" width="3.35" height="3.5" fill="#1aa5df"/><rect x="257.25" y="13.6" width="3.35" height="3.5" fill="#1aa5df"/><rect x="261.69" y="13.6" width="3.35" height="3.5" fill="#1aa5df"/><rect x="266.14" y="13.6" width="3.35" height="3.5" fill="#fbe096"/><rect x="270.59" y="13.6" width="3.35" height="3.5" fill="#fbe096"/><rect x="275.04" y="13.6" width="3.35" height="3.5" fill="#5f5f5f"/><rect x="279.48" y="13.6" width="3.35" height="3.5" fill="#1aa5df"/><rect x="283.93" y="13.6" width="3.35" height="3.5" fill="#1aa5df"/><rect x="288.38" y="13.6" width="3.35" height="3.5" fill="#e16565"/><rect x="292.82" y="13.6" width="3.35" height="3.5" fill="#a9c7ea"/><rect x="297.27" y="13.6" width="3.35" height="3.5" fill="#1aa5df"/><rect x="301.72" y="13.6" width="3.35" height="3.5" fill="#1aa5df"/><rect x="306.16" y="13.6" width="3.35" height="3.5" fill="#5f5f5f"/><rect x="310.61" y="13.6" width="3.35" height="3.5" fill="#fbe096"/><rect x="315.06" y="13.6" width="3.35" height="3.5" fill="#fbe096"/><rect x="319.51" y="13.6" width="3.35" height="3.5" fill="#fbe096"/><rect x="323.95" y="13.6" width="3.35" height="3.5" fill="#fbe096"/><rect x="328.40" y="13.6" width="3.35" height="3.5" fill="#10a010"/><rect x="332.85" y="13.6" width="3.35" height="3.5" fill="#10a010"/><rect x="337.29" y="13.6" width="3.35" height="3.5" fill="#10a010"/><rect x="341.74" y="13.6" width="3.35" height="3.5" fill="#1aa5df"/><rect x="346.19" y="13.6" width="3.35" height="3.5" fill="#5f5f5f"/><rect x="350.63" y="13.6" width="3.35" height="3.5" fill="#1aa5df"/><rect x="355.08" y="13.6" width="3.35" height="3.5" fill="#5f5f5f"/><rect x="359.53" y="13.6" width="3.35" height="3.5" fill="#fbe096"/><rect x="363.98" y="13.6" width="3.35" height="3.5" fill="#fbe096"/><rect x="368.42" y="13.6" width="3.35" height="3.5" fill="#5f5f5f"/><rect x="372.87" y="13.6" width="3.35" height="3.5" fill="#e16565"/><rect x="377.32" y="13.6" width="3.35" height="3.5" fill="#10a010"/><rect x="381.76" y="13.6" width="3.35" height="3.5" fill="#fbe096"/><rect x="386.21" y="13.6" width="3.35" height="3.5" fill="#fbe096"/><rect x="390.66" y="13.6" width="3.35" height="3.5" fill="#fbe096"/><rect x="395.10" y="13.6" width="3.35" height="3.5" fill="#fbe096"/><rect x="399.55" y="13.6" width="3.35" height="3.5" fill="#fbe096"/><rect x="404.00" y="13.6" width="3.35" height="3.5" fill="#fbe096"/><rect x="408.44" y="13.6" width="3.35" height="3.5" fill="#fbe096"/><rect x="412.89" y="13.6" width="3.35" height="3.5" fill="#fbe096"/><rect x="417.34" y="13.6" width="3.35" height="3.5" fill="#fbe096"/><rect x="421.79" y="13.6" width="3.35" height="3.5" fill="#fbe096"/><rect x="426.23" y="13.6" width="3.35" height="3.5" fill="#fbe096"/><rect x="430.68" y="13.6" width="3.35" height="3.5" fill="#fbe096"/><rect x="435.13" y="13.6" width="3.35" height="3.5" fill="#fbe096"/><rect x="439.57" y="13.6" width="3.35" height="3.5" fill="#fbe096"/><rect x="444.02" y="13.6" width="3.35" height="3.5" fill="#fbe096"/><rect x="448.47" y="13.6" width="3.35" height="3.5" fill="#fbe096"/><rect x="452.92" y="13.6" width="3.35" height="3.5" fill="#fbe096"/><rect x="457.36" y="13.6" width="3.35" height="3.5" fill="#fbe096"/><rect x="461.81" y="13.6" width="3.35" height="3.5" fill="#fbe096"/><rect x="466.26" y="13.6" width="3.35" height="3.5" fill="#fbe096"/><rect x="470.70" y="13.6" width="3.35" height="3.5" fill="#fbe096"/><rect x="475.15" y="13.6" width="3.35" height="3.5" fill="#fbe096"/><rect x="479.60" y="13.6" width="3.35" height="3.5" fill="#fbe096"/><rect x="484.04" y="13.6" width="3.35" height="3.5" fill="#fbe096"/><rect x="488.49" y="13.6" width="3.35" height="3.5" fill="#fbe096"/><rect x="492.94" y="13.6" width="3.35" height="3.5" fill="#fbe096"/><rect x="497.39" y="13.6" width="3.35" height="3.5" fill="#fbe096"/><rect x="501.83" y="13.6" width="3.35" height="3.5" fill="#fbe096"/><rect x="506.28" y="13.6" width="3.35" height="3.5" fill="#fbe096"/><g font-family="Liberation Sans, sans-serif" font-size="43.0" fill="#2a2a2a" stroke="#2a2a2a" stroke-width="0"><text transform="translate(512.3,24.37) rotate(0.05) scale(0.088,0.1)"><tspan font-style="italic">B. album</tspan> DSM 18261<tspan font-size="26" dy="-14">T</tspan></text><text transform="translate(75.14,458.0) rotate(90.05) scale(0.088,0.1)"><tspan font-style="italic">B. album</tspan> DSM 18261<tspan font-size="26" dy="-14">T</tspan></text><text transform="translate(512.3,28.82) rotate(0.05) scale(0.088,0.1)"><tspan font-style="italic">B. senegalense</tspan> JC43</text><text transform="translate(79.59,458.0) rotate(90.05) scale(0.088,0.1)"><tspan font-style="italic">B. senegalense</tspan> JC43</text><text transform="translate(512.3,33.27) rotate(0.05) scale(0.088,0.1)"><tspan font-style="italic">B. yomogidense</tspan> DSM 14850<tspan font-size="26" dy="-14">T</tspan></text><text transform="translate(84.04,458.0) rotate(90.05) scale(0.088,0.1)"><tspan font-style="italic">B. yomogidense</tspan> DSM 14850<tspan font-size="26" dy="-14">T</tspan></text><text transform="translate(512.3,37.71) rotate(0.05) scale(0.088,0.1)"><tspan font-style="italic">B. jeotgali</tspan> DSM 19217<tspan font-size="26" dy="-14">T</tspan></text><text transform="translate(88.48,458.0) rotate(90.05) scale(0.088,0.1)"><tspan font-style="italic">B. jeotgali</tspan> DSM 19217<tspan font-size="26" dy="-14">T</tspan></text><text transform="translate(512.3,42.16) rotate(0.05) scale(0.088,0.1)"><tspan font-style="italic">Brevibacterium sp.</tspan> R-Co 03.10</text><text transform="translate(92.93,458.0) rotate(90.05) scale(0.088,0.1)"><tspan font-style="italic">Brevibacterium sp.</tspan> R-Co 03.10</text><text transform="translate(512.3,46.61) rotate(0.05) scale(0.088,0.1)"><tspan font-style="italic">Brevibacterium sp.</tspan> 4Ma309</text><text transform="translate(97.38,458.0) rotate(90.05) scale(0.088,0.1)"><tspan font-style="italic">Brevibacterium sp.</tspan> 4Ma309</text><text transform="translate(512.3,51.06) rotate(0.05) scale(0.088,0.1)"><tspan font-style="italic">B. choae</tspan> DVS</text><text transform="translate(101.83,458.0) rotate(90.05) scale(0.088,0.1)"><tspan font-style="italic">B. choae</tspan> DVS</text><text transform="translate(512.3,55.50) rotate(0.05) scale(0.088,0.1)"><tspan font-style="italic">Brevibacterium sp.</tspan> CS3</text><text transform="translate(106.27,458.0) rotate(90.05) scale(0.088,0.1)"><tspan font-style="italic">Brevibacterium sp.</tspan> CS3</text><text transform="translate(512.3,59.95) rotate(0.05) scale(0.088,0.1)"><tspan font-style="italic">Brevibacterium sp.</tspan> SMDB1 ME10a</text><text transform="translate(110.72,458.0) rotate(90.05) scale(0.088,0.1)"><tspan font-style="italic">Brevibacterium sp.</tspan> SMDB1 ME10a</text><text transform="translate(512.3,64.40) rotate(0.05) scale(0.088,0.1)"><tspan font-style="italic">Brevibacterium sp.</tspan> Re57</text><text transform="translate(115.17,458.0) rotate(90.05) scale(0.088,0.1)"><tspan font-style="italic">Brevibacterium sp.</tspan> Re57</text><text transform="translate(512.3,68.84) rotate(0.05) scale(0.088,0.1)"><tspan font-style="italic">B. luteolum</tspan> NBRC 784</text><text transform="translate(119.61,458.0) rotate(90.05) scale(0.088,0.1)"><tspan font-style="italic">B. luteolum</tspan> NBRC 784</text><text transform="translate(512.3,73.29) rotate(0.05) scale(0.088,0.1)"><tspan font-style="italic">B. luteolum</tspan> UMB0688</text><text transform="translate(124.06,458.0) rotate(90.05) scale(0.088,0.1)"><tspan font-style="italic">B. luteolum</tspan> UMB0688</text><text transform="translate(512.3,77.74) rotate(0.05) scale(0.088,0.1)"><tspan font-style="italic">B. luteolum</tspan> DSM 15022<tspan font-size="26" dy="-14">T</tspan></text><text transform="translate(128.51,458.0) rotate(90.05) scale(0.088,0.1)"><tspan font-style="italic">B. luteolum</tspan> DSM 15022<tspan font-size="26" dy="-14">T</tspan></text><text transform="translate(512.3,82.18) rotate(0.05) scale(0.088,0.1)"><tspan font-style="italic">Brevibacterium sp.</tspan> UBA2634</text><text transform="translate(132.95,458.0) rotate(90.05) scale(0.088,0.1)"><tspan font-style="italic">Brevibacterium sp.</tspan> UBA2634</text><text transform="translate(512.3,86.63) rotate(0.05) scale(0.088,0.1)"><tspan font-style="italic">Brevibacterium sp.</tspan> UBA7493</text><text transform="translate(137.40,458.0) rotate(90.05) scale(0.088,0.1)"><tspan font-style="italic">Brevibacterium sp.</tspan> UBA7493</text><text transform="translate(512.3,91.08) rotate(0.05) scale(0.088,0.1)"><tspan font-style="italic">B. rongguiense</tspan> 5221<tspan font-size="26" dy="-14">T</tspan></text><text transform="translate(141.85,458.0) rotate(90.05) scale(0.088,0.1)"><tspan font-style="italic">B. rongguiense</tspan> 5221<tspan font-size="26" dy="-14">T</tspan></text><text transform="translate(512.3,95.53) rotate(0.05) scale(0.088,0.1)"><tspan font-style="italic">B. mcbrellneri</tspan> ATCC 49030<tspan font-size="26" dy="-14">T</tspan></text><text transform="translate(146.30,458.0) rotate(90.05) scale(0.088,0.1)"><tspan font-style="italic">B. mcbrellneri</tspan> ATCC 49030<tspan font-size="26" dy="-14">T</tspan></text><text transform="translate(512.3,99.97) rotate(0.05) scale(0.088,0.1)"><tspan font-style="italic">B. paucivorans</tspan> DSM 13657<tspan font-size="26" dy="-14">T</tspan></text><text transform="translate(150.74,458.0) rotate(90.05) scale(0.088,0.1)"><tspan font-style="italic">B. paucivorans</tspan> DSM 13657<tspan font-size="26" dy="-14">T</tspan></text><text transform="translate(512.3,104.42) rotate(0.05) scale(0.088,0.1)"><tspan font-style="italic">Brevibacterium sp.</tspan> HMSC063G07</text><text transform="translate(155.19,458.0) rotate(90.05) scale(0.088,0.1)"><tspan font-style="italic">Brevibacterium sp.</tspan> HMSC063G07</text><text transform="translate(512.3,108.87) rotate(0.05) scale(0.088,0.1)"><tspan font-style="italic">Brevibacterium sp.</tspan> Marseille-P9724</text><text transform="translate(159.64,458.0) rotate(90.05) scale(0.088,0.1)"><tspan font-style="italic">Brevibacterium sp.</tspan> Marseille-P9724</text><text transform="translate(512.3,113.31) rotate(0.05) scale(0.088,0.1)"><tspan font-style="italic">Brevibacterium sp.</tspan> HMSC07C04</text><text transform="translate(164.08,458.0) rotate(90.05) scale(0.088,0.1)"><tspan font-style="italic">Brevibacterium sp.</tspan> HMSC07C04</text><text transform="translate(512.3,117.76) rotate(0.05) scale(0.088,0.1)"><tspan font-style="italic">B. massiliense</tspan> CCUG 56047</text><text transform="translate(168.53,458.0) rotate(90.05) scale(0.088,0.1)"><tspan font-style="italic">B. massiliense</tspan> CCUG 56047</text><text transform="translate(512.3,122.21) rotate(0.05) scale(0.088,0.1)"><tspan font-style="italic">Brevibacterium sp.</tspan> HMSC22B09</text><text transform="translate(172.98,458.0) rotate(90.05) scale(0.088,0.1)"><tspan font-style="italic">Brevibacterium sp.</tspan> HMSC22B09</text><text transform="translate(512.3,126.65) rotate(0.05) scale(0.088,0.1)"><tspan font-style="italic">B. massiliense</tspan> NML 140868</text><text transform="translate(177.42,458.0) rotate(90.05) scale(0.088,0.1)"><tspan font-style="italic">B. massiliense</tspan> NML 140868</text><text transform="translate(512.3,131.10) rotate(0.05) scale(0.088,0.1)"><tspan font-style="italic">Brevibacterium sp.</tspan> HMSC24B04</text><text transform="translate(181.87,458.0) rotate(90.05) scale(0.088,0.1)"><tspan font-style="italic">Brevibacterium sp.</tspan> HMSC24B04</text><text transform="translate(512.3,135.55) rotate(0.05) scale(0.088,0.1)"><tspan font-style="italic">B. massiliense</tspan> CCUG 53855<tspan font-size="26" dy="-14">T</tspan></text><text transform="translate(186.32,458.0) rotate(90.05) scale(0.088,0.1)"><tspan font-style="italic">B. massiliense</tspan> CCUG 53855<tspan font-size="26" dy="-14">T</tspan></text><text transform="translate(512.3,140.00) rotate(0.05) scale(0.088,0.1)"><tspan font-style="italic">Brevibacterium sp.</tspan> 3b_TX</text><text transform="translate(190.77,458.0) rotate(90.05) scale(0.088,0.1)"><tspan font-style="italic">Brevibacterium sp.</tspan> 3b_TX</text><text transform="translate(512.3,144.44) rotate(0.05) scale(0.088,0.1)"><tspan font-style="italic">Brevibacterium sp.</tspan> XM4083</text><text transform="translate(195.21,458.0) rotate(90.05) scale(0.088,0.1)"><tspan font-style="italic">Brevibacterium sp.</tspan> XM4083</text><text transform="translate(512.3,148.89) rotate(0.05) scale(0.088,0.1)"><tspan font-style="italic">Brevibacterium sp.</tspan> FDAARGOS_990<tspan font-size="26" dy="-14">T</tspan></text><text transform="translate(199.66,458.0) rotate(90.05) scale(0.088,0.1)"><tspan font-style="italic">Brevibacterium sp.</tspan> FDAARGOS_990<tspan font-size="26" dy="-14">T</tspan></text><text transform="translate(512.3,153.34) rotate(0.05) scale(0.088,0.1)"><tspan font-style="italic">Brevibacterium sp.</tspan> 3tA</text><text transform="translate(204.11,458.0) rotate(90.05) scale(0.088,0.1)"><tspan font-style="italic">Brevibacterium sp.</tspan> 3tA</text><text transform="translate(512.3,157.78) rotate(0.05) scale(0.088,0.1)"><tspan font-style="italic">Brevibacterium sp.</tspan> LS14</text><text transform="translate(208.55,458.0) rotate(90.05) scale(0.088,0.1)"><tspan font-style="italic">Brevibacterium sp.</tspan> LS14</text><text transform="translate(512.3,162.23) rotate(0.05) scale(0.088,0.1)"><tspan font-style="italic">B. casei</tspan> FDAARGOS_1100</text><text transform="translate(213.00,458.0) rotate(90.05) scale(0.088,0.1)"><tspan font-style="italic">B. casei</tspan> FDAARGOS_1100</text><text transform="translate(512.3,166.68) rotate(0.05) scale(0.088,0.1)"><tspan font-style="italic">B. casei</tspan> FDAARGOS_930</text><text transform="translate(217.45,458.0) rotate(90.05) scale(0.088,0.1)"><tspan font-style="italic">B. casei</tspan> FDAARGOS_930</text><text transform="translate(512.3,171.12) rotate(0.05) scale(0.088,0.1)"><tspan font-style="italic">B. casei</tspan> 3011ST1PYF0T0B1D0</text><text transform="translate(221.89,458.0) rotate(90.05) scale(0.088,0.1)"><tspan font-style="italic">B. casei</tspan> 3011ST1PYF0T0B1D0</text><text transform="translate(512.3,175.57) rotate(0.05) scale(0.088,0.1)"><tspan font-style="italic">B. casei</tspan> FDAARGOS_902</text><text transform="translate(226.34,458.0) rotate(90.05) scale(0.088,0.1)"><tspan font-style="italic">B. casei</tspan> FDAARGOS_902</text><text transform="translate(512.3,180.02) rotate(0.05) scale(0.088,0.1)"><tspan font-style="italic">B. casei</tspan> M40</text><text transform="translate(230.79,458.0) rotate(90.05) scale(0.088,0.1)"><tspan font-style="italic">B. casei</tspan> M40</text><text transform="translate(512.3,184.47) rotate(0.05) scale(0.088,0.1)"><tspan font-style="italic">B. casei</tspan> D9DL35</text><text transform="translate(235.24,458.0) rotate(90.05) scale(0.088,0.1)"><tspan font-style="italic">B. casei</tspan> D9DL35</text><text transform="translate(512.3,188.91) rotate(0.05) scale(0.088,0.1)"><tspan font-style="italic">B. casei</tspan> NM848</text><text transform="translate(239.68,458.0) rotate(90.05) scale(0.088,0.1)"><tspan font-style="italic">B. casei</tspan> NM848</text><text transform="translate(512.3,193.36) rotate(0.05) scale(0.088,0.1)"><tspan font-style="italic">B. casei</tspan> S18</text><text transform="translate(244.13,458.0) rotate(90.05) scale(0.088,0.1)"><tspan font-style="italic">B. casei</tspan> S18</text><text transform="translate(512.3,197.81) rotate(0.05) scale(0.088,0.1)"><tspan font-style="italic">B. casei</tspan> SS1</text><text transform="translate(248.58,458.0) rotate(90.05) scale(0.088,0.1)"><tspan font-style="italic">B. casei</tspan> SS1</text><text transform="translate(512.3,202.25) rotate(0.05) scale(0.088,0.1)" font-weight="bold"><tspan font-style="italic">Brevibacterium sp.</tspan> H-BE7</text><text transform="translate(253.02,458.0) rotate(90.05) scale(0.088,0.1)" font-weight="bold"><tspan font-style="italic">Brevibacterium sp.</tspan> H-BE7</text><text transform="translate(512.3,206.70) rotate(0.05) scale(0.088,0.1)"><tspan font-style="italic">B. sanguinis</tspan> BBH7<tspan font-size="26" dy="-14">T</tspan></text><text transform="translate(257.47,458.0) rotate(90.05) scale(0.088,0.1)"><tspan font-style="italic">B. sanguinis</tspan> BBH7<tspan font-size="26" dy="-14">T</tspan></text><text transform="translate(512.3,211.15) rotate(0.05) scale(0.088,0.1)"><tspan font-style="italic">B. atlanticum</tspan> WO024<tspan font-size="26" dy="-14">T</tspan></text><text transform="translate(261.92,458.0) rotate(90.05) scale(0.088,0.1)"><tspan font-style="italic">B. atlanticum</tspan> WO024<tspan font-size="26" dy="-14">T</tspan></text><text transform="translate(512.3,215.59) rotate(0.05) scale(0.088,0.1)"><tspan font-style="italic">Brevibacterium sp.</tspan> 3111</text><text transform="translate(266.36,458.0) rotate(90.05) scale(0.088,0.1)"><tspan font-style="italic">Brevibacterium sp.</tspan> 3111</text><text transform="translate(512.3,220.04) rotate(0.05) scale(0.088,0.1)"><tspan font-style="italic">Brevibacterium sp.</tspan> S22</text><text transform="translate(270.81,458.0) rotate(90.05) scale(0.088,0.1)"><tspan font-style="italic">Brevibacterium sp.</tspan> S22</text><text transform="translate(512.3,224.49) rotate(0.05) scale(0.088,0.1)"><tspan font-style="italic">Brevibacterium sp.</tspan> CPH 20160</text><text transform="translate(275.26,458.0) rotate(90.05) scale(0.088,0.1)"><tspan font-style="italic">Brevibacterium sp.</tspan> CPH 20160</text><text transform="translate(512.3,228.94) rotate(0.05) scale(0.088,0.1)"><tspan font-style="italic">B. limosum</tspan> o2<tspan font-size="26" dy="-14">T</tspan></text><text transform="translate(279.71,458.0) rotate(90.05) scale(0.088,0.1)"><tspan font-style="italic">B. limosum</tspan> o2<tspan font-size="26" dy="-14">T</tspan></text><text transform="translate(512.3,233.38) rotate(0.05) scale(0.088,0.1)"><tspan font-style="italic">B. pigmentatum</tspan> YB235</text><text transform="translate(284.15,458.0) rotate(90.05) scale(0.088,0.1)"><tspan font-style="italic">B. pigmentatum</tspan> YB235</text><text transform="translate(512.3,237.83) rotate(0.05) scale(0.088,0.1)"><tspan font-style="italic">B. epidermidis</tspan> NBRC 14811<tspan font-size="26" dy="-14">T</tspan></text><text transform="translate(288.60,458.0) rotate(90.05) scale(0.088,0.1)"><tspan font-style="italic">B. epidermidis</tspan> NBRC 14811<tspan font-size="26" dy="-14">T</tspan></text><text transform="translate(512.3,242.28) rotate(0.05) scale(0.088,0.1)"><tspan font-style="italic">Brevibacterium sp.</tspan> AE038-8</text><text transform="translate(293.05,458.0) rotate(90.05) scale(0.088,0.1)"><tspan font-style="italic">Brevibacterium sp.</tspan> AE038-8</text><text transform="translate(512.3,246.72) rotate(0.05) scale(0.088,0.1)"><tspan font-style="italic">Brevibacterium sp.</tspan> 81218</text><text transform="translate(297.49,458.0) rotate(90.05) scale(0.088,0.1)"><tspan font-style="italic">Brevibacterium sp.</tspan> 81218</text><text transform="translate(512.3,251.17) rotate(0.05) scale(0.088,0.1)"><tspan font-style="italic">Brevibacterium sp.</tspan> Marine</text><text transform="translate(301.94,458.0) rotate(90.05) scale(0.088,0.1)"><tspan font-style="italic">Brevibacterium sp.</tspan> Marine</text><text transform="translate(512.3,255.62) rotate(0.05) scale(0.088,0.1)"><tspan font-style="italic">Brevibacterium sp.</tspan> VCM10</text><text transform="translate(306.39,458.0) rotate(90.05) scale(0.088,0.1)"><tspan font-style="italic">Brevibacterium sp.</tspan> VCM10</text><text transform="translate(512.3,260.06) rotate(0.05) scale(0.088,0.1)"><tspan font-style="italic">Brevibacterium sp.</tspan> Mu109</text><text transform="translate(310.83,458.0) rotate(90.05) scale(0.088,0.1)"><tspan font-style="italic">Brevibacterium sp.</tspan> Mu109</text><text transform="translate(512.3,264.51) rotate(0.05) scale(0.088,0.1)"><tspan font-style="italic">B. linens</tspan> ATCC 9172<tspan font-size="26" dy="-14">T</tspan></text><text transform="translate(315.28,458.0) rotate(90.05) scale(0.088,0.1)"><tspan font-style="italic">B. linens</tspan> ATCC 9172<tspan font-size="26" dy="-14">T</tspan></text><text transform="translate(512.3,268.96) rotate(0.05) scale(0.088,0.1)"><tspan font-style="italic">B. linens</tspan> ATCC 19391</text><text transform="translate(319.73,458.0) rotate(90.05) scale(0.088,0.1)"><tspan font-style="italic">B. linens</tspan> ATCC 19391</text><text transform="translate(512.3,273.41) rotate(0.05) scale(0.088,0.1)"><tspan font-style="italic">B. iodinum</tspan> ATCC 49514<tspan font-size="26" dy="-14">T</tspan></text><text transform="translate(324.18,458.0) rotate(90.05) scale(0.088,0.1)"><tspan font-style="italic">B. iodinum</tspan> ATCC 49514<tspan font-size="26" dy="-14">T</tspan></text><text transform="translate(512.3,277.85) rotate(0.05) scale(0.088,0.1)"><tspan font-style="italic">B. permense</tspan> VKM Ac-2280<tspan font-size="26" dy="-14">T</tspan></text><text transform="translate(328.62,458.0) rotate(90.05) scale(0.088,0.1)"><tspan font-style="italic">B. permense</tspan> VKM Ac-2280<tspan font-size="26" dy="-14">T</tspan></text><text transform="translate(512.3,282.30) rotate(0.05) scale(0.088,0.1)"><tspan font-style="italic">Brevibacterium sp.</tspan> CT2-23B</text><text transform="translate(333.07,458.0) rotate(90.05) scale(0.088,0.1)"><tspan font-style="italic">Brevibacterium sp.</tspan> CT2-23B</text><text transform="translate(512.3,286.75) rotate(0.05) scale(0.088,0.1)"><tspan font-style="italic">Brevibacterium sp.</tspan> R516</text><text transform="translate(337.52,458.0) rotate(90.05) scale(0.088,0.1)"><tspan font-style="italic">Brevibacterium sp.</tspan> R516</text><text transform="translate(512.3,291.19) rotate(0.05) scale(0.088,0.1)"><tspan font-style="italic">B. sediminis</tspan> FXJ8.269<tspan font-size="26" dy="-14">T</tspan></text><text transform="translate(341.96,458.0) rotate(90.05) scale(0.088,0.1)"><tspan font-style="italic">B. sediminis</tspan> FXJ8.269<tspan font-size="26" dy="-14">T</tspan></text><text transform="translate(512.3,295.64) rotate(0.05) scale(0.088,0.1)"><tspan font-style="italic">Brevibacterium sp.</tspan> 8BD-2</text><text transform="translate(346.41,458.0) rotate(90.05) scale(0.088,0.1)"><tspan font-style="italic">Brevibacterium sp.</tspan> 8BD-2</text><text transform="translate(512.3,300.09) rotate(0.05) scale(0.088,0.1)"><tspan font-style="italic">B. marinum</tspan> DSM 18964<tspan font-size="26" dy="-14">T</tspan></text><text transform="translate(350.86,458.0) rotate(90.05) scale(0.088,0.1)"><tspan font-style="italic">B. marinum</tspan> DSM 18964<tspan font-size="26" dy="-14">T</tspan></text><text transform="translate(512.3,304.53) rotate(0.05) scale(0.088,0.1)"><tspan font-style="italic">B. sandarakinum</tspan> DSM 22082<tspan font-size="26" dy="-14">T</tspan></text><text transform="translate(355.30,458.0) rotate(90.05) scale(0.088,0.1)"><tspan font-style="italic">B. sandarakinum</tspan> DSM 22082<tspan font-size="26" dy="-14">T</tspan></text><text transform="translate(512.3,308.98) rotate(0.05) scale(0.088,0.1)"><tspan font-style="italic">Brevibacterium sp.</tspan> CNRZ 918</text><text transform="translate(359.75,458.0) rotate(90.05) scale(0.088,0.1)"><tspan font-style="italic">Brevibacterium sp.</tspan> CNRZ 918</text><text transform="translate(512.3,313.43) rotate(0.05) scale(0.088,0.1)"><tspan font-style="italic">Brevibacterium sp.</tspan> P10</text><text transform="translate(364.20,458.0) rotate(90.05) scale(0.088,0.1)"><tspan font-style="italic">Brevibacterium sp.</tspan> P10</text><text transform="translate(512.3,317.88) rotate(0.05) scale(0.088,0.1)"><tspan font-style="italic">B. antiquum</tspan> DSM 21545<tspan font-size="26" dy="-14">T</tspan></text><text transform="translate(368.65,458.0) rotate(90.05) scale(0.088,0.1)"><tspan font-style="italic">B. antiquum</tspan> DSM 21545<tspan font-size="26" dy="-14">T</tspan></text><text transform="translate(512.3,322.32) rotate(0.05) scale(0.088,0.1)"><tspan font-style="italic">Brevibacterium sp.</tspan> XU54</text><text transform="translate(373.09,458.0) rotate(90.05) scale(0.088,0.1)"><tspan font-style="italic">Brevibacterium sp.</tspan> XU54</text><text transform="translate(512.3,326.77) rotate(0.05) scale(0.088,0.1)"><tspan font-style="italic">Brevibacterium sp.</tspan> RIT803</text><text transform="translate(377.54,458.0) rotate(90.05) scale(0.088,0.1)"><tspan font-style="italic">Brevibacterium sp.</tspan> RIT803</text><text transform="translate(512.3,331.22) rotate(0.05) scale(0.088,0.1)"><tspan font-style="italic">Brevibacterium sp.</tspan> 33hr</text><text transform="translate(381.99,458.0) rotate(90.05) scale(0.088,0.1)"><tspan font-style="italic">Brevibacterium sp.</tspan> 33hr</text><text transform="translate(512.3,335.66) rotate(0.05) scale(0.088,0.1)"><tspan font-style="italic">Brevibacterium sp.</tspan> FME17</text><text transform="translate(386.43,458.0) rotate(90.05) scale(0.088,0.1)"><tspan font-style="italic">Brevibacterium sp.</tspan> FME17</text><text transform="translate(512.3,340.11) rotate(0.05) scale(0.088,0.1)"><tspan font-style="italic">Brevibacterium sp.</tspan> FME37</text><text transform="translate(390.88,458.0) rotate(90.05) scale(0.088,0.1)"><tspan font-style="italic">Brevibacterium sp.</tspan> FME37</text><text transform="translate(512.3,344.56) rotate(0.05) scale(0.088,0.1)"><tspan font-style="italic">B. aurantiacum</tspan> FM834</text><text transform="translate(395.33,458.0) rotate(90.05) scale(0.088,0.1)"><tspan font-style="italic">B. aurantiacum</tspan> FM834</text><text transform="translate(512.3,349.00) rotate(0.05) scale(0.088,0.1)"><tspan font-style="italic">B. aurantiacum</tspan> FM09</text><text transform="translate(399.77,458.0) rotate(90.05) scale(0.088,0.1)"><tspan font-style="italic">B. aurantiacum</tspan> FM09</text><text transform="translate(512.3,353.45) rotate(0.05) scale(0.088,0.1)"><tspan font-style="italic">B. aurantiacum</tspan> 908_6</text><text transform="translate(404.22,458.0) rotate(90.05) scale(0.088,0.1)"><tspan font-style="italic">B. aurantiacum</tspan> 908_6</text><text transform="translate(512.3,357.90) rotate(0.05) scale(0.088,0.1)"><tspan font-style="italic">B. aurantiacum</tspan> 8(X)</text><text transform="translate(408.67,458.0) rotate(90.05) scale(0.088,0.1)"><tspan font-style="italic">B. aurantiacum</tspan> 8(X)</text><text transform="translate(512.3,362.35) rotate(0.05) scale(0.088,0.1)"><tspan font-style="italic">B. aurantiacum</tspan> L3</text><text transform="translate(413.12,458.0) rotate(90.05) scale(0.088,0.1)"><tspan font-style="italic">B. aurantiacum</tspan> L3</text><text transform="translate(512.3,366.79) rotate(0.05) scale(0.088,0.1)"><tspan font-style="italic">B. aurantiacum</tspan> 947_7</text><text transform="translate(417.56,458.0) rotate(90.05) scale(0.088,0.1)"><tspan font-style="italic">B. aurantiacum</tspan> 947_7</text><text transform="translate(512.3,371.24) rotate(0.05) scale(0.088,0.1)"><tspan font-style="italic">B. aurantiacum</tspan> CNRZ 920</text><text transform="translate(422.01,458.0) rotate(90.05) scale(0.088,0.1)"><tspan font-style="italic">B. aurantiacum</tspan> CNRZ 920</text><text transform="translate(512.3,375.69) rotate(0.05) scale(0.088,0.1)"><tspan font-style="italic">B. aurantiacum</tspan> FM043</text><text transform="translate(426.46,458.0) rotate(90.05) scale(0.088,0.1)"><tspan font-style="italic">B. aurantiacum</tspan> FM043</text><text transform="translate(512.3,380.13) rotate(0.05) scale(0.088,0.1)"><tspan font-style="italic">B. aurantiacum</tspan> FM045</text><text transform="translate(430.90,458.0) rotate(90.05) scale(0.088,0.1)"><tspan font-style="italic">B. aurantiacum</tspan> FM045</text><text transform="translate(512.3,384.58) rotate(0.05) scale(0.088,0.1)"><tspan font-style="italic">B. aurantiacum</tspan> 6(3)</text><text transform="translate(435.35,458.0) rotate(90.05) scale(0.088,0.1)"><tspan font-style="italic">B. aurantiacum</tspan> 6(3)</text><text transform="translate(512.3,389.03) rotate(0.05) scale(0.088,0.1)"><tspan font-style="italic">B. aurantiacum</tspan> FM048</text><text transform="translate(439.80,458.0) rotate(90.05) scale(0.088,0.1)"><tspan font-style="italic">B. aurantiacum</tspan> FM048</text><text transform="translate(512.3,393.47) rotate(0.05) scale(0.088,0.1)"><tspan font-style="italic">B. aurantiacum</tspan> 876_7</text><text transform="translate(444.24,458.0) rotate(90.05) scale(0.088,0.1)"><tspan font-style="italic">B. aurantiacum</tspan> 876_7</text><text transform="translate(512.3,397.92) rotate(0.05) scale(0.088,0.1)"><tspan font-style="italic">B. aurantiacum</tspan> 541_15</text><text transform="translate(448.69,458.0) rotate(90.05) scale(0.088,0.1)"><tspan font-style="italic">B. aurantiacum</tspan> 541_15</text><text transform="translate(512.3,402.37) rotate(0.05) scale(0.088,0.1)"><tspan font-style="italic">B. aurantiacum</tspan> 862_8</text><text transform="translate(453.14,458.0) rotate(90.05) scale(0.088,0.1)"><tspan font-style="italic">B. aurantiacum</tspan> 862_8</text><text transform="translate(512.3,406.82) rotate(0.05) scale(0.088,0.1)"><tspan font-style="italic">B. aurantiacum</tspan> FM039</text><text transform="translate(457.59,458.0) rotate(90.05) scale(0.088,0.1)"><tspan font-style="italic">B. aurantiacum</tspan> FM039</text><text transform="translate(512.3,411.26) rotate(0.05) scale(0.088,0.1)"><tspan font-style="italic">B. aurantiacum</tspan> 8I5</text><text transform="translate(462.03,458.0) rotate(90.05) scale(0.088,0.1)"><tspan font-style="italic">B. aurantiacum</tspan> 8I5</text><text transform="translate(512.3,415.71) rotate(0.05) scale(0.088,0.1)"><tspan font-style="italic">B. aurantiacum</tspan> SMQ-1420</text><text transform="translate(466.48,458.0) rotate(90.05) scale(0.088,0.1)"><tspan font-style="italic">B. aurantiacum</tspan> SMQ-1420</text><text transform="translate(512.3,420.16) rotate(0.05) scale(0.088,0.1)"><tspan font-style="italic">B. aurantiacum</tspan> 908_7</text><text transform="translate(470.93,458.0) rotate(90.05) scale(0.088,0.1)"><tspan font-style="italic">B. aurantiacum</tspan> 908_7</text><text transform="translate(512.3,424.60) rotate(0.05) scale(0.088,0.1)"><tspan font-style="italic">B. aurantiacum</tspan> SMQ-1418</text><text transform="translate(475.37,458.0) rotate(90.05) scale(0.088,0.1)"><tspan font-style="italic">B. aurantiacum</tspan> SMQ-1418</text><text transform="translate(512.3,429.05) rotate(0.05) scale(0.088,0.1)"><tspan font-style="italic">B. aurantiacum</tspan> SMQ-1419</text><text transform="translate(479.82,458.0) rotate(90.05) scale(0.088,0.1)"><tspan font-style="italic">B. aurantiacum</tspan> SMQ-1419</text><text transform="translate(512.3,433.50) rotate(0.05) scale(0.088,0.1)"><tspan font-style="italic">B. aurantiacum</tspan> 862_7</text><text transform="translate(484.27,458.0) rotate(90.05) scale(0.088,0.1)"><tspan font-style="italic">B. aurantiacum</tspan> 862_7</text><text transform="translate(512.3,437.94) rotate(0.05) scale(0.088,0.1)"><tspan font-style="italic">B. aurantiacum</tspan> SMQ-1421</text><text transform="translate(488.71,458.0) rotate(90.05) scale(0.088,0.1)"><tspan font-style="italic">B. aurantiacum</tspan> SMQ-1421</text><text transform="translate(512.3,442.39) rotate(0.05) scale(0.088,0.1)"><tspan font-style="italic">B. aurantiacum</tspan> ATCC 9175<tspan font-size="26" dy="-14">T</tspan></text><text transform="translate(493.16,458.0) rotate(90.05) scale(0.088,0.1)"><tspan font-style="italic">B. aurantiacum</tspan> ATCC 9175<tspan font-size="26" dy="-14">T</tspan></text><text transform="translate(512.3,446.84) rotate(0.05) scale(0.088,0.1)"><tspan font-style="italic">B. aurantiacum</tspan> BL2</text><text transform="translate(497.61,458.0) rotate(90.05) scale(0.088,0.1)"><tspan font-style="italic">B. aurantiacum</tspan> BL2</text><text transform="translate(512.3,451.29) rotate(0.05) scale(0.088,0.1)"><tspan font-style="italic">B. aurantiacum</tspan> SMQ-1417</text><text transform="translate(502.06,458.0) rotate(90.05) scale(0.088,0.1)"><tspan font-style="italic">B. aurantiacum</tspan> SMQ-1417</text><text transform="translate(512.3,455.73) rotate(0.05) scale(0.088,0.1)"><tspan font-style="italic">B. aurantiacum</tspan> 738_8</text><text transform="translate(506.50,458.0) rotate(90.05) scale(0.088,0.1)"><tspan font-style="italic">B. aurantiacum</tspan> 738_8</text></g><text x="41.1" y="17.9" font-size="9.9" textLength="28.9" lengthAdjust="spacingAndGlyphs" fill="#111" stroke="#111" stroke-width="0.25">Source</text><g font-family="Liberation Sans, sans-serif" fill="#111" stroke="#111" stroke-width="0.2"><text x="588" y="10.50" font-size="9.0" textLength="30.9" lengthAdjust="spacingAndGlyphs">Identity</text><rect x="588" y="12.0" width="71.1" height="1.1" fill="#222" stroke="none"/><defs><linearGradient id="cb" x1="0" y1="0" x2="0" y2="1"><stop offset="0" stop-color="#1f3080"/><stop offset="0.1" stop-color="#2a4a98"/><stop offset="0.2" stop-color="#3462ae"/><stop offset="0.35" stop-color="#4d80c0"/><stop offset="0.5" stop-color="#709fcf"/><stop offset="0.65" stop-color="#9cbddf"/><stop offset="0.8" stop-color="#c6dbef"/><stop offset="0.92" stop-color="#e2edf7"/><stop offset="1.0" stop-color="#eef4fb"/></linearGradient></defs><rect x="588.2" y="18" width="10.3" height="160" fill="url(#cb)" stroke="none"/><text x="601.3" y="22.85" font-size="9.0" textLength="25.3" lengthAdjust="spacingAndGlyphs">100%</text><text x="600.9" y="50.86" font-size="9.0" textLength="20.1" lengthAdjust="spacingAndGlyphs">95%</text><text x="600.9" y="78.87" font-size="9.0" textLength="20.1" lengthAdjust="spacingAndGlyphs">90%</text><text x="600.9" y="106.88" font-size="9.0" textLength="20.1" lengthAdjust="spacingAndGlyphs">85%</text><text x="600.9" y="134.89" font-size="9.0" textLength="20.1" lengthAdjust="spacingAndGlyphs">80%</text><text x="600.9" y="162.90" font-size="9.0" textLength="20.1" lengthAdjust="spacingAndGlyphs">75%</text><text x="584.7" y="192.20" font-size="9.0" textLength="27.2" lengthAdjust="spacingAndGlyphs">Clades</text><rect x="584.7" y="193.9" width="71.2" height="1.1" fill="#222" stroke="none"/><rect x="584.4" y="197.20" width="12.2" height="11.5" fill="#6a4ea7" stroke="none"/><text x="599.7" y="205.50" font-size="9.0" textLength="28.5" lengthAdjust="spacingAndGlyphs">Clade I</text><rect x="584.4" y="211.02" width="12.2" height="11.5" fill="#c63a8a" stroke="none"/><text x="599.7" y="219.50" font-size="9.0" textLength="40.3" lengthAdjust="spacingAndGlyphs">Clade II-A</text><rect x="584.4" y="224.84" width="12.2" height="11.5" fill="#f08dc0" stroke="none"/><text x="599.7" y="233.50" font-size="9.0" textLength="40.3" lengthAdjust="spacingAndGlyphs">Clade II-B</text><rect x="584.4" y="238.66" width="12.2" height="11.5" fill="#9b9b9b" stroke="none"/><text x="599.7" y="247.50" font-size="9.0" textLength="53.7" lengthAdjust="spacingAndGlyphs">Clade 3b_TX</text><rect x="584.4" y="252.48" width="12.2" height="11.5" fill="#2e8a2b" stroke="none"/><text x="599.7" y="261.50" font-size="9.0" textLength="33.2" lengthAdjust="spacingAndGlyphs">Clade III</text><rect x="584.4" y="266.30" width="12.2" height="11.5" fill="#2b7dbf" stroke="none"/><text x="599.7" y="275.50" font-size="9.0" textLength="44.5" lengthAdjust="spacingAndGlyphs">Clade IV-A</text><rect x="584.4" y="280.12" width="12.2" height="11.5" fill="#184e77" stroke="none"/><text x="599.7" y="289.50" font-size="9.0" textLength="44.5" lengthAdjust="spacingAndGlyphs">Clade IV-B</text><text x="584.7" y="303.90" font-size="9.0" textLength="28.3" lengthAdjust="spacingAndGlyphs">Source</text><rect x="584.7" y="304.8" width="84.3" height="1.1" fill="#222" stroke="none"/><rect x="584.6" y="308.50" width="12.2" height="11.4" fill="#a9c7ea" stroke="none"/><text x="599.7" y="316.90" font-size="9.0" textLength="31.5" lengthAdjust="spacingAndGlyphs">Aquatic</text><rect x="584.6" y="322.36" width="12.2" height="11.4" fill="#fde29a" stroke="none"/><text x="599.7" y="330.90" font-size="9.0" textLength="21.2" lengthAdjust="spacingAndGlyphs">Food</text><rect x="584.6" y="336.22" width="12.2" height="11.4" fill="#e06464" stroke="none"/><text x="599.7" y="344.90" font-size="9.0" textLength="29.2" lengthAdjust="spacingAndGlyphs">Human</text><rect x="584.6" y="350.08" width="12.2" height="11.4" fill="#1aa6df" stroke="none"/><text x="599.7" y="358.90" font-size="9.0" textLength="28.2" lengthAdjust="spacingAndGlyphs">Marine</text><rect x="584.6" y="363.94" width="12.2" height="11.4" fill="#9a9a9a" stroke="none"/><text x="599.7" y="372.90" font-size="9.0" textLength="65.1" lengthAdjust="spacingAndGlyphs">Other-unknown</text><rect x="584.6" y="377.80" width="12.2" height="11.4" fill="#13a013" stroke="none"/><text x="599.7" y="386.90" font-size="9.0" textLength="14.9" lengthAdjust="spacingAndGlyphs">Soil</text></g></g></svg>
</body></html>
